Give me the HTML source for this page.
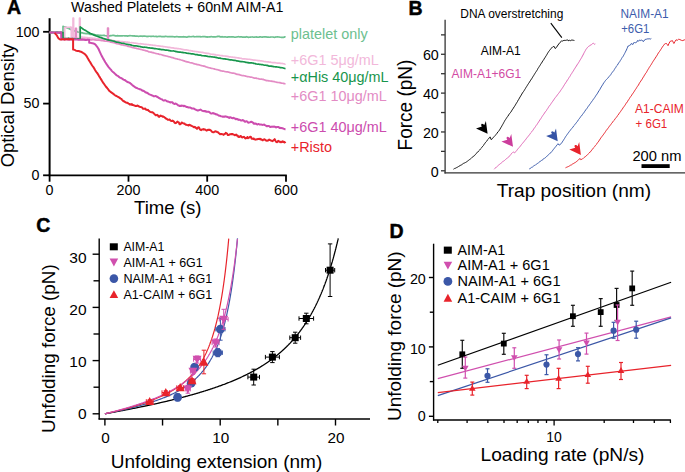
<!DOCTYPE html>
<html><head><meta charset="utf-8"><title>figure</title>
<style>html,body{margin:0;padding:0;background:#fff;}svg{display:block;}text{font-family:"Liberation Sans", sans-serif;}</style>
</head><body>
<svg width="685" height="472" viewBox="0 0 685 472" font-family="'Liberation Sans', sans-serif">
<rect width="685" height="472" fill="#fff"/>
<text x="7" y="13.8" font-size="19.5" fill="#000" font-weight="bold" stroke="#000" stroke-width="0.45">A</text>
<text x="71.1" y="11.8" font-size="14.6" fill="#000" textLength="212.3" lengthAdjust="spacingAndGlyphs">Washed Platelets + 60nM AIM-A1</text>
<line x1="49.6" y1="18.2" x2="49.6" y2="176.1" stroke="#000" stroke-width="2"/>
<line x1="48.7" y1="175.3" x2="286.8" y2="175.3" stroke="#000" stroke-width="1.8"/>
<line x1="43.1" y1="31.8" x2="49.6" y2="31.8" stroke="#000" stroke-width="1.8"/>
<line x1="43.1" y1="103.6" x2="49.6" y2="103.6" stroke="#000" stroke-width="1.8"/>
<line x1="43.1" y1="175.3" x2="49.6" y2="175.3" stroke="#000" stroke-width="1.8"/>
<line x1="49.6" y1="175.3" x2="49.6" y2="181.7" stroke="#000" stroke-width="1.8"/>
<line x1="128.5" y1="175.3" x2="128.5" y2="181.7" stroke="#000" stroke-width="1.8"/>
<line x1="207.2" y1="175.3" x2="207.2" y2="181.7" stroke="#000" stroke-width="1.8"/>
<line x1="286" y1="175.3" x2="286" y2="181.7" stroke="#000" stroke-width="1.8"/>
<text x="39.5" y="36.6" font-size="14.3" fill="#000" text-anchor="end">100</text>
<text x="39.5" y="108.4" font-size="14.3" fill="#000" text-anchor="end">50</text>
<text x="39.5" y="180.3" font-size="14.3" fill="#000" text-anchor="end">0</text>
<text x="49.6" y="195.2" font-size="14.3" fill="#000" text-anchor="middle">0</text>
<text x="128.5" y="195.2" font-size="14.3" fill="#000" text-anchor="middle">200</text>
<text x="207.2" y="195.2" font-size="14.3" fill="#000" text-anchor="middle">400</text>
<text x="286" y="195.2" font-size="14.3" fill="#000" text-anchor="middle">600</text>
<text x="134" y="214.3" font-size="19" fill="#000" textLength="67.5" lengthAdjust="spacingAndGlyphs">Time (s)</text>
<text x="14.2" y="167.3" font-size="19" fill="#000" textLength="123.5" lengthAdjust="spacingAndGlyphs" transform="rotate(-90 14.2 167.3)">Optical Density</text>
<text x="290.8" y="38.8" font-size="14.4" fill="#6cc08f">platelet only</text>
<text x="290.8" y="64.6" font-size="14.4" fill="#f2b8da">+6G1 5μg/mL</text>
<text x="290.8" y="81.8" font-size="14.4" fill="#17954c">+αHis 40μg/mL</text>
<text x="290.8" y="101.4" font-size="14.4" fill="#e38bc4">+6G1 10μg/mL</text>
<text x="290.8" y="131.8" font-size="14.4" fill="#cc4cae">+6G1 40μg/mL</text>
<text x="290.8" y="151.8" font-size="14.4" fill="#e8232b">+Risto</text>
<polyline points="49.6,32.5 50.3,32.34 51,32.27 51.7,32.36 52.4,32.54 53.1,32.59 53.8,32.52 54.5,32.44 55.2,32.52 55.9,32.6 56.6,32.45 57.3,32.41 58,32.47 58.7,32.43 59.4,32.39 60.1,32.13 60.8,32.14 61.5,32 62.2,32.16 62.9,32.17 63,32.5 63,26.4 63.7,26.62 64.4,26.78 65.1,27.01 65.8,27.16 66.5,27.5 67.2,27.92 67.9,28.21 68.6,28.56 69.3,28.82 70,29.13 70.7,29.42 71.4,29.63 72.1,29.98 72.8,30.15 73.5,30.41 74.2,30.79 74.9,30.99 75.6,31.27 76.3,31.33 77,31.61 77.7,31.9 78.4,32.14 79.1,32.25 79.8,32.23 80.5,32.37 81.2,32.63 81.9,32.84 82.6,32.93 83.3,33.16 84,33.37 84.7,33.45 85.4,33.53 86.1,33.47 86.8,33.67 87.5,33.65 88.2,33.75 88.9,33.82 89.6,34.13 90.3,34.4 91,34.38 91.7,34.3 92.4,34.34 93.1,34.36 93.8,34.47 94.5,34.48 95.2,34.89 95.9,35.08 96.6,35.14 97.3,35.05 98,35.03 98.7,35.28 99.4,35.34 100.1,35.4 100.8,35.34 101.5,35.42 102.2,35.48 102.9,35.37 103.6,35.42 104.3,35.42 105,35.67 105.7,35.76 106.4,35.81 107.1,35.78 107.8,35.7 108.5,35.82 109.2,35.76 109.9,35.87 110.6,35.65 111.3,35.69 112,35.48 112.7,35.41 113.4,35.36 114.1,35.44 114.8,35.67 115.5,35.93 116.2,35.95 116.9,35.88 117.6,35.68 118.3,35.82 119,35.87 119.7,35.84 120.4,35.87 121.1,35.95 121.8,35.87 122.5,35.8 123.2,35.77 123.9,35.77 124.6,35.82 125.3,35.74 126,35.95 126.7,35.96 127.4,36.07 128.1,35.92 128.8,35.9 129.5,35.71 130.2,35.67 130.9,35.73 131.6,35.73 132.3,35.94 133,35.74 133.7,36.04 134.4,35.89 135.1,36.16 135.8,36.11 136.5,36.05 137.2,36.11 137.9,36.26 138.6,36.42 139.3,36.28 140,36.14 140.7,36.06 141.4,36.21 142.1,36.19 142.8,36.29 143.5,36.12 144.2,36.13 144.9,36.02 145.6,36.24 146.3,36.3 147,36.54 147.7,36.43 148.4,36.39 149.1,36.27 149.8,36.23 150.5,36.31 151.2,36.32 151.9,36.36 152.6,36.23 153.3,36.2 154,36.41 154.7,36.49 155.4,36.47 156.1,36.35 156.8,36.57 157.5,36.54 158.2,36.5 158.9,36.3 159.6,36.28 160.3,36.39 161,36.45 161.7,36.65 162.4,36.51 163.1,36.56 163.8,36.51 164.5,36.57 165.2,36.42 165.9,36.36 166.6,36.51 167.3,36.58 168,36.74 168.7,36.6 169.4,36.62 170.1,36.54 170.8,36.61 171.5,36.63 172.2,36.67 172.9,36.62 173.6,36.77 174.3,36.86 175,36.9 175.7,36.73 176.4,36.53 177.1,36.59 177.8,36.75 178.5,36.87 179.2,36.84 179.9,36.82 180.6,36.92 181.3,36.97 182,36.85 182.7,36.92 183.4,36.71 184.1,36.84 184.8,36.74 185.5,36.96 186.2,37.06 186.9,37.17 187.6,36.97 188.3,36.62 189,36.55 189.7,36.57 190.4,36.74 191.1,36.75 191.8,36.69 192.5,36.48 193.2,36.43 193.9,36.6 194.6,36.79 195.3,36.77 196,36.68 196.7,36.56 197.4,36.54 198.1,36.53 198.8,36.52 199.5,36.59 200.2,36.69 200.9,36.89 201.6,36.75 202.3,36.69 203,36.55 203.7,36.57 204.4,36.65 205.1,36.68 205.8,36.81 206.5,36.82 207.2,37.11 207.9,36.93 208.6,36.99 209.3,36.78 210,36.92 210.7,36.69 211.4,36.66 212.1,36.74 212.8,36.88 213.5,36.93 214.2,36.83 214.9,36.96 215.6,36.95 216.3,36.76 217,36.58 217.7,36.39 218.4,36.29 219.1,36.31 219.8,36.64 220.5,36.97 221.2,36.91 221.9,36.69 222.6,36.8 223.3,36.93 224,37.03 224.7,36.92 225.4,36.91 226.1,36.99 226.8,37.05 227.5,37.07 228.2,36.89 228.9,36.89 229.6,36.8 230.3,37.02 231,36.84 231.7,36.9 232.4,36.79 233.1,36.79 233.8,36.98 234.5,37.13 235.2,37.22 235.9,37.12 236.6,37.02 237.3,36.8 238,36.76 238.7,36.71 239.4,36.99 240.1,36.86 240.8,36.84 241.5,36.81 242.2,37.04 242.9,37.11 243.6,37.13 244.3,37.16 245,37.08 245.7,37.04 246.4,36.71 247.1,36.92 247.8,37.06 248.5,37.34 249.2,37.25 249.9,37.17 250.6,37.1 251.3,37.01 252,36.98 252.7,36.97 253.4,37.14 254.1,37.22 254.8,37.21 255.5,37.01 256.2,36.89 256.9,37.06 257.6,37.17 258.3,37.24 259,37.05 259.7,36.89 260.4,36.88 261.1,37 261.8,37.08 262.5,37.06 263.2,36.96 263.9,37.01 264.6,36.87 265.3,36.87 266,36.78 266.7,37.03 267.4,36.98 268.1,37.12 268.8,37.19 269.5,37.24 270.2,37.12 270.9,36.99 271.6,37.02 272.3,36.99 273,37.01 273.7,37.22 274.4,37.29 275.1,37.23 275.8,36.93 276.5,36.98 277.2,36.88 277.9,36.88 278.6,36.98 279.3,37.01 280,37.23 280.7,37.26 281.4,37.38 282.1,37.33 282.8,37.37 283.5,37.33 284.2,37.21 284.9,36.88 285.5,37.1" fill="none" stroke="#6cc08f" stroke-width="1.7" stroke-linejoin="round"/>
<polyline points="49.6,32.5 50.3,32.45 51,32.48 51.7,32.52 52.4,32.52 53.1,32.51 53.8,32.5 54.5,32.49 55.2,32.5 55.9,32.53 56.6,32.61 57.3,32.65 58,32.63 58.7,32.45 59.4,32.44 60.1,32.34 60.8,32.35 61.5,32.37 62.2,32.51 62.5,32.5 62.5,38 63.2,38.16 63.9,38.08 64.6,37.91 64.7,38 64.7,27.3 65.4,27.35 66.1,27.46 66.8,27.38 67.5,27.36 68.2,27.3 68.9,27.3 69.6,27.26 70.3,27.2 71,27.15 71.3,27.3 71.3,38 72,37.88 72.7,37.99 73,38 73,18.2 73.6,18.2 73.6,38 74.3,38.03 75,37.91 75.7,38.06 76.4,38.06 77.1,38.2 77.8,38.04 78.5,38.06 79.2,37.89 79.5,38 79.5,18.2 80.1,18.2 80.1,37 80.8,36.96 81.5,37.01 82.2,37.09 82.9,37.25 83.6,37.31 84.3,37.38 85,37.37 85.7,37.47 86.4,37.58 87.1,37.66 87.8,37.85 88.5,37.84 89.2,37.96 89.9,37.95 90.6,38.02 91.3,38.11 92,38.18 92.7,38.33 93.4,38.37 94.1,38.4 94.8,38.44 95.5,38.52 96.2,38.7 96.9,38.74 97.6,38.81 98.3,38.75 99,38.91 99.7,38.94 100.4,39.01 101.1,39.05 101.8,39.24 102.5,39.34 103.2,39.37 103.9,39.35 104.6,39.45 105.3,39.61 106,39.69 106.7,39.79 107.4,39.88 108.1,39.96 108.8,40.1 109.5,40.11 110.2,40.17 110.9,40.13 111.6,40.36 112.3,40.49 113,40.67 113.7,40.66 114.4,40.77 115.1,40.84 115.8,41.02 116.5,41.04 117.2,41.04 117.9,40.98 118.6,41.05 119.3,41.25 120,41.42 120.7,41.52 121.4,41.5 122.1,41.52 122.8,41.72 123.5,41.73 124.2,41.86 124.9,41.82 125.6,42.09 126.3,42.1 127,42.22 127.7,42.17 128.4,42.26 129.1,42.42 129.8,42.62 130.5,42.73 131.2,42.7 131.9,42.64 132.6,42.72 133.3,42.85 134,43.02 134.7,43.11 135.4,43.14 136.1,43.22 136.8,43.31 137.5,43.51 138.2,43.68 138.9,43.76 139.6,43.74 140.3,43.72 141,43.78 141.7,43.86 142.4,43.94 143.1,44 143.8,44.15 144.5,44.23 145.2,44.38 145.9,44.42 146.6,44.47 147.3,44.49 148,44.57 148.7,44.67 149.4,44.81 150.1,44.9 150.8,44.95 151.5,45.02 152.2,45.04 152.9,45.16 153.6,45.23 154.3,45.28 155,45.4 155.7,45.51 156.4,45.69 157.1,45.76 157.8,45.82 158.5,45.86 159.2,45.96 159.9,46.04 160.6,46.19 161.3,46.23 162,46.36 162.7,46.45 163.4,46.6 164.1,46.66 164.8,46.77 165.5,46.79 166.2,46.93 166.9,47.01 167.6,47.2 168.3,47.3 169,47.35 169.7,47.42 170.4,47.54 171.1,47.69 171.8,47.82 172.5,47.81 173.2,47.92 173.9,48.07 174.6,48.3 175.3,48.39 176,48.36 176.7,48.46 177.4,48.55 178.1,48.61 178.8,48.69 179.5,48.73 180.2,48.9 180.9,48.95 181.6,49.2 182.3,49.36 183,49.51 183.7,49.65 184.4,49.86 185.1,49.95 185.8,49.96 186.5,49.93 187.2,50.01 187.9,50.16 188.6,50.36 189.3,50.51 190,50.65 190.7,50.71 191.4,50.81 192.1,50.91 192.8,51.09 193.5,51.27 194.2,51.36 194.9,51.43 195.6,51.51 196.3,51.56 197,51.6 197.7,51.73 198.4,51.89 199.1,52.1 199.8,52.1 200.5,52.2 201.2,52.27 201.9,52.43 202.6,52.45 203.3,52.57 204,52.77 204.7,53.02 205.4,53.12 206.1,53.19 206.8,53.32 207.5,53.32 208.2,53.43 208.9,53.53 209.6,53.81 210.3,54.02 211,54.16 211.7,54.25 212.4,54.29 213.1,54.38 213.8,54.45 214.5,54.54 215.2,54.65 215.9,54.88 216.6,54.98 217.3,55.04 218,55.06 218.7,55.24 219.4,55.35 220.1,55.51 220.8,55.5 221.5,55.6 222.2,55.62 222.9,55.81 223.6,55.97 224.3,56 225,56.02 225.7,56.08 226.4,56.22 227.1,56.29 227.8,56.42 228.5,56.58 229.2,56.78 229.9,56.8 230.6,56.93 231.3,56.99 232,57.16 232.7,57.16 233.4,57.23 234.1,57.28 234.8,57.39 235.5,57.56 236.2,57.66 236.9,57.75 237.6,57.82 238.3,57.88 239,58.07 239.7,58.13 240.4,58.22 241.1,58.33 241.8,58.57 242.5,58.79 243.2,58.82 243.9,58.82 244.6,58.89 245.3,58.97 246,59.01 246.7,59.03 247.4,59.16 248.1,59.26 248.8,59.26 249.5,59.26 250.2,59.43 250.9,59.57 251.6,59.72 252.3,59.79 253,59.95 253.7,60.04 254.4,60.14 255.1,60.16 255.8,60.25 256.5,60.27 257.2,60.46 257.9,60.57 258.6,60.67 259.3,60.69 260,60.77 260.7,60.93 261.4,60.96 262.1,61.01 262.8,61.04 263.5,61.34 264.2,61.53 264.9,61.63 265.6,61.63 266.3,61.77 267,61.86 267.7,61.89 268.4,61.94 269.1,62.06 269.8,62.2 270.5,62.2 271.2,62.36 271.9,62.5 272.6,62.64 273.3,62.67 274,62.57 274.7,62.66 275.4,62.7 276.1,62.91 276.8,63 277.5,63.07 278.2,63.05 278.9,63.12 279.6,63.19 280.3,63.34 281,63.38 281.7,63.48 282.4,63.47 283.1,63.64 283.8,63.76 284.5,64.01 285.2,64.13 285.5,64" fill="none" stroke="#f2b8da" stroke-width="1.7" stroke-linejoin="round"/>
<polyline points="49.6,32.5 50.3,32.37 51,32.45 51.7,32.37 52.4,32.55 53.1,32.55 53.8,32.66 54.5,32.66 55.2,32.66 55.9,32.67 56.6,32.59 57.3,32.66 58,32.85 58.7,33.12 59.4,33.24 60.1,33.19 60.8,33.04 61.5,33.08 62,33 62,38.5 62.7,38.39 63.4,38.4 64.1,38.55 64.8,38.62 65.5,38.63 66.2,38.51 66.9,38.57 67.6,38.51 68.3,38.46 69,38.47 69.7,38.57 70.4,38.59 71.1,38.63 71.8,38.57 72.5,38.56 73.2,38.43 73.9,38.57 74.6,38.43 75.3,38.42 75.5,38.5 75.5,28.4 76.2,28.33 76.4,28.4 76.4,38.8 77.1,38.66 77.8,38.74 78.5,38.89 79.2,39.07 79.9,39.07 80.6,38.98 81.3,38.86 82,38.85 82.7,38.91 83.4,39.03 84.1,39.09 84.8,39.08 85.5,39.14 86.2,39.22 86.9,39.42 87.6,39.43 88.3,39.52 89,39.55 89.7,39.68 90.4,39.71 91.1,39.79 91.8,39.79 92.5,39.72 93.2,39.74 93.9,39.75 94.6,39.92 95.3,39.91 96,40.09 96.7,40.15 97.4,40.23 98.1,40.07 98.8,40.11 99.5,40.26 100.2,40.4 100.9,40.49 101.6,40.53 102.3,40.69 103,40.71 103.7,40.83 104.4,40.94 105.1,41.24 105.8,41.25 106.5,41.24 107.2,41.1 107.6,41.3 107.6,28.2 108.3,28.04 108.4,28.2 108.4,41.5 109.1,41.5 109.8,41.74 110.5,42.06 111.2,42.25 111.9,42.3 112.6,42.48 113.3,42.61 114,42.76 114.7,42.83 115.4,43.13 116.1,43.39 116.8,43.69 117.5,43.73 118.2,43.95 118.9,44 119.6,44.19 120.3,44.46 121,44.73 121.7,44.87 122.4,44.87 123.1,45.02 123.8,45.3 124.5,45.45 125.2,45.48 125.9,45.56 126.6,45.76 127.3,46.06 128,46.34 128.7,46.53 129.4,46.75 130.1,46.77 130.8,46.98 131.5,47.24 132.2,47.54 132.9,47.68 133.6,47.72 134.3,47.97 135,48.06 135.7,48.22 136.4,48.31 137.1,48.6 137.8,48.75 138.5,48.92 139.2,49.03 139.9,49.25 140.6,49.4 141.3,49.52 142,49.68 142.7,49.93 143.4,50.12 144.1,50.29 144.8,50.45 145.5,50.62 146.2,50.83 146.9,50.89 147.6,51.22 148.3,51.54 149,51.93 149.7,52.02 150.4,52.09 151.1,52.15 151.8,52.35 152.5,52.58 153.2,52.67 153.9,52.91 154.6,52.99 155.3,53.35 156,53.47 156.7,53.61 157.4,53.72 158.1,53.93 158.8,54.16 159.5,54.36 160.2,54.46 160.9,54.49 161.6,54.7 162.3,54.96 163,55.3 163.7,55.42 164.4,55.63 165.1,55.77 165.8,55.9 166.5,56 167.2,56.29 167.9,56.43 168.6,56.71 169.3,56.77 170,56.98 170.7,57.17 171.4,57.39 172.1,57.57 172.8,57.65 173.5,57.9 174.2,58.26 174.9,58.44 175.6,58.6 176.3,58.76 177,58.93 177.7,59.12 178.4,59.26 179.1,59.46 179.8,59.59 180.5,59.79 181.2,60.02 181.9,60.21 182.6,60.37 183.3,60.64 184,60.88 184.7,61.16 185.4,61.36 186.1,61.58 186.8,61.86 187.5,61.92 188.2,62.13 188.9,62.15 189.6,62.52 190.3,62.77 191,62.86 191.7,62.86 192.4,62.99 193.1,63.36 193.8,63.67 194.5,63.81 195.2,63.98 195.9,64.17 196.6,64.36 197.3,64.59 198,64.58 198.7,64.82 199.4,64.87 200.1,65.28 200.8,65.41 201.5,65.61 202.2,65.76 202.9,65.9 203.6,66.09 204.3,66.14 205,66.39 205.7,66.67 206.4,67.03 207.1,67.2 207.8,67.42 208.5,67.54 209.2,67.72 209.9,67.87 210.6,68.12 211.3,68.29 212,68.41 212.7,68.51 213.4,68.72 214.1,68.85 214.8,69.1 215.5,69.25 216.2,69.51 216.9,69.56 217.6,69.78 218.3,69.95 219,70.15 219.7,70.43 220.4,70.59 221.1,70.91 221.8,71 222.5,71.1 223.2,71.12 223.9,71.24 224.6,71.45 225.3,71.64 226,71.75 226.7,71.79 227.4,71.93 228.1,71.96 228.8,72.27 229.5,72.39 230.2,72.65 230.9,72.77 231.6,72.99 232.3,73.1 233,73.15 233.7,73.22 234.4,73.34 235.1,73.54 235.8,73.88 236.5,74.1 237.2,74.36 237.9,74.31 238.6,74.56 239.3,74.64 240,74.88 240.7,75.05 241.4,75.34 242.1,75.51 242.8,75.63 243.5,75.6 244.2,75.78 244.9,75.9 245.6,76.17 246.3,76.28 247,76.56 247.7,76.52 248.4,76.65 249.1,76.74 249.8,76.99 250.5,77.11 251.2,77.18 251.9,77.25 252.6,77.46 253.3,77.78 254,78.09 254.7,78.16 255.4,78.08 256.1,78.12 256.8,78.4 257.5,78.54 258.2,78.67 258.9,78.8 259.6,79.05 260.3,79.21 261,79.22 261.7,79.19 262.4,79.31 263.1,79.37 263.8,79.66 264.5,79.81 265.2,80.12 265.9,80.33 266.6,80.59 267.3,80.61 268,80.68 268.7,80.81 269.4,80.97 270.1,80.98 270.8,81.03 271.5,81.11 272.2,81.4 272.9,81.38 273.6,81.54 274.3,81.55 275,81.83 275.7,82.04 276.4,82.2 277.1,82.33 277.8,82.52 278.5,82.49 279.2,82.63 279.9,82.63 280.6,82.91 281.3,83.04 282,83.15 282.7,83.23 283.4,83.39 284.1,83.59 284.8,83.71 285.5,83.8" fill="none" stroke="#e38bc4" stroke-width="1.7" stroke-linejoin="round"/>
<polyline points="49.6,32.5 50.3,32.68 51,32.54 51.7,32.47 52.4,32.45 53.1,32.43 53.8,32.5 54.5,32.49 55.2,32.5 55.9,32.4 56.6,32.42 57.3,32.39 58,32.44 58.7,32.5 59.4,32.56 60.1,32.6 60.8,32.56 61.5,32.55 62.2,32.51 62.9,32.48 63,32.5 63,38.6 63.7,38.51 64.4,38.57 65.1,38.56 65.8,38.66 66.5,38.62 67.2,38.55 67.9,38.47 68.6,38.41 69.3,38.53 70,38.63 70.7,38.77 71.4,38.72 72.1,38.63 72.8,38.7 73.5,38.79 74.2,38.84 74.9,38.81 75.6,38.92 76.3,38.99 77,38.96 77.7,38.86 78.4,38.83 79.1,38.81 79.8,38.74 80.2,38.8 80.2,26.8 80.9,27.41 81.6,27.83 82.3,28.42 83,28.98 83.7,29.46 84.4,29.86 85.1,30.17 85.8,30.59 86.5,31.09 87.2,31.6 87.9,32.01 88.6,32.37 89.3,32.77 90,33.23 90.7,33.59 91.4,33.93 92.1,34.16 92.8,34.46 93.5,34.86 94.2,35.14 94.9,35.46 95.6,35.67 96.3,36.03 97,36.26 97.7,36.5 98.4,36.77 99.1,37.05 99.8,37.19 100.5,37.42 101.2,37.61 101.9,37.89 102.6,38.13 103.3,38.42 104,38.7 104.7,38.87 105.4,39.08 106.1,39.3 106.8,39.57 107.5,39.79 108.2,39.92 108.9,40.04 109.6,40.2 110.3,40.33 111,40.54 111.7,40.65 112.4,40.89 113.1,40.97 113.8,41.13 114.5,41.32 115.2,41.62 115.9,41.89 116.6,42.05 117.3,42.16 118,42.24 118.7,42.42 119.4,42.58 120.1,42.81 120.8,43.03 121.5,43.2 122.2,43.25 122.9,43.27 123.6,43.34 124.3,43.51 125,43.76 125.7,43.99 126.4,44.12 127.1,44.23 127.8,44.42 128.5,44.62 129.2,44.69 129.9,44.75 130.6,44.91 131.3,45.11 132,45.32 132.7,45.5 133.4,45.66 134.1,45.79 134.8,45.89 135.5,45.88 136.2,45.93 136.9,46.03 137.6,46.2 138.3,46.37 139,46.45 139.7,46.53 140.4,46.67 141.1,46.83 141.8,46.99 142.5,47.07 143.2,47.19 143.9,47.29 144.6,47.22 145.3,47.23 146,47.28 146.7,47.45 147.4,47.59 148.1,47.76 148.8,47.88 149.5,47.9 150.2,48.03 150.9,48.12 151.6,48.2 152.3,48.2 153,48.33 153.7,48.44 154.4,48.56 155.1,48.6 155.8,48.68 156.5,48.73 157.2,48.88 157.9,48.98 158.6,49.08 159.3,49.12 160,49.39 160.7,49.42 161.4,49.59 162.1,49.54 162.8,49.66 163.5,49.72 164.2,49.86 164.9,50.03 165.6,50.11 166.3,50.13 167,50.14 167.7,50.25 168.4,50.41 169.1,50.6 169.8,50.7 170.5,50.82 171.2,50.93 171.9,51.02 172.6,50.99 173.3,50.96 174,50.98 174.7,51.24 175.4,51.36 176.1,51.59 176.8,51.64 177.5,51.88 178.2,51.97 178.9,52.04 179.6,52.04 180.3,52.1 181,52.22 181.7,52.31 182.4,52.41 183.1,52.58 183.8,52.63 184.5,52.75 185.2,52.73 185.9,52.93 186.6,53.07 187.3,53.21 188,53.35 188.7,53.34 189.4,53.5 190.1,53.54 190.8,53.76 191.5,53.82 192.2,53.83 192.9,53.86 193.6,53.97 194.3,54.29 195,54.45 195.7,54.56 196.4,54.52 197.1,54.68 197.8,54.87 198.5,55.05 199.2,55.07 199.9,55.01 200.6,55.16 201.3,55.42 202,55.64 202.7,55.77 203.4,55.77 204.1,55.79 204.8,55.91 205.5,55.93 206.2,56.07 206.9,56.13 207.6,56.35 208.3,56.49 209,56.6 209.7,56.63 210.4,56.65 211.1,56.74 211.8,56.85 212.5,56.96 213.2,57 213.9,57.12 214.6,57.21 215.3,57.31 216,57.36 216.7,57.57 217.4,57.77 218.1,58.06 218.8,58.08 219.5,58.14 220.2,58.19 220.9,58.36 221.6,58.49 222.3,58.64 223,58.74 223.7,58.8 224.4,58.76 225.1,58.9 225.8,59.08 226.5,59.19 227.2,59.23 227.9,59.35 228.6,59.55 229.3,59.68 230,59.79 230.7,59.9 231.4,59.95 232.1,60.01 232.8,60.11 233.5,60.28 234.2,60.29 234.9,60.37 235.6,60.54 236.3,60.83 237,60.85 237.7,61.05 238.4,61.02 239.1,61.29 239.8,61.32 240.5,61.54 241.2,61.61 241.9,61.59 242.6,61.68 243.3,61.75 244,61.79 244.7,62.01 245.4,62.19 246.1,62.51 246.8,62.43 247.5,62.58 248.2,62.68 248.9,62.91 249.6,62.94 250.3,62.91 251,62.94 251.7,62.94 252.4,63.02 253.1,63.14 253.8,63.31 254.5,63.5 255.2,63.59 255.9,63.85 256.6,64.03 257.3,64.14 258,64.22 258.7,64.22 259.4,64.32 260.1,64.41 260.8,64.5 261.5,64.61 262.2,64.61 262.9,64.78 263.6,64.99 264.3,65.13 265,65.24 265.7,65.22 266.4,65.31 267.1,65.35 267.8,65.58 268.5,65.86 269.2,66.06 269.9,66.06 270.6,66.08 271.3,66.15 272,66.34 272.7,66.43 273.4,66.57 274.1,66.67 274.8,66.73 275.5,66.81 276.2,66.8 276.9,66.92 277.6,66.98 278.3,67.17 279,67.25 279.7,67.44 280.4,67.58 281.1,67.66 281.8,67.73 282.5,67.77 283.2,67.99 283.9,68.22 284.6,68.42 285.3,68.48 285.5,68.4" fill="none" stroke="#17954c" stroke-width="1.7" stroke-linejoin="round"/>
<polyline points="49.6,32.5 50.3,32.57 51,32.66 51.7,32.54 52.4,32.45 53.1,32.5 53.8,32.42 54.5,32.39 55.2,32.41 55.9,32.5 56.6,32.6 57.3,32.58 58,32.69 58.7,32.59 59.4,32.6 60.1,32.38 60.8,32.35 61.2,32.5 61.2,39.3 61.9,39.22 62.6,39.26 63.3,39.32 64,39.4 64.7,39.4 65.4,39.33 66.1,39.33 66.8,39.36 67.5,39.47 68.2,39.61 68.9,39.67 69.6,39.63 70.3,39.49 71,39.42 71.7,39.39 72.4,39.36 73.1,39.39 73.8,39.43 74.5,39.53 75.2,39.55 75.9,39.57 76.6,39.48 77.3,39.6 78,39.65 78.7,39.81 79.4,39.78 80.1,39.85 80.8,39.75 81.5,39.76 82.2,39.84 82.9,39.8 83.6,39.84 84.3,39.8 85,39.89 85.7,39.88 86.4,39.88 87.1,39.83 87.8,39.83 88.5,39.73 89.2,39.8 89.2,42.7 89.9,42.78 90.6,42.88 91.3,43.11 92,43.13 92.7,43.25 93.4,43.44 94.1,43.72 94.8,44.07 95.5,44.71 96.2,45.62 96.9,46.48 97.6,47.43 98.3,48.5 99,50.02 99.7,51.6 100.4,53.1 101.1,54.63 101.8,55.99 102.5,57.35 103.2,58.62 103.9,59.81 104.6,61.01 105.3,62.27 106,63.32 106.7,64.45 107.4,65.34 108.1,66.43 108.8,67.33 109.5,68.15 110.2,68.95 110.9,69.65 111.6,70.53 112.3,71.35 113,72.02 113.7,72.61 114.4,73.21 115.1,73.91 115.8,74.71 116.5,75.17 117.2,75.6 117.9,75.95 118.6,76.53 119.3,77.18 120,77.63 120.7,77.93 121.4,78.22 122.1,78.56 122.8,79.19 123.5,79.62 124.2,79.98 124.9,80.1 125.6,80.62 126.3,81.3 127,81.78 127.7,82.02 128.4,82.36 129.1,82.56 129.8,82.89 130.5,83.43 131.2,84.04 131.9,84.75 132.6,85.26 133.3,85.9 134,86.3 134.7,86.91 135.4,87.37 136.1,87.76 136.8,87.95 137.5,88.33 138.2,88.65 138.9,88.93 139.6,89.2 140.3,89.35 141,89.66 141.7,89.99 142.4,90.65 143.1,90.69 143.8,91.02 144.5,91.45 145.2,92.17 145.9,92.34 146.6,92.82 147.3,92.85 148,93.39 148.7,93.87 149.4,94.32 150.1,94.57 150.8,94.83 151.5,95.22 152.2,95.58 152.9,95.67 153.6,96.34 154.3,96.15 155,96.17 155.7,95.92 156.4,96.5 157.1,96.78 157.8,97.1 158.5,97.74 159.2,98.01 159.9,98.53 160.6,98.82 161.3,99.12 162,99.38 162.7,99.96 163.4,100.49 164.1,100.53 164.8,100.33 165.5,100.25 166.2,100.72 166.9,101.2 167.6,101.46 168.3,101.57 169,101.86 169.7,102.17 170.4,102.5 171.1,102.17 171.8,102.31 172.5,102.35 173.2,103.39 173.9,103.72 174.6,103.93 175.3,103.45 176,103.72 176.7,104.24 177.4,104.64 178.1,105.42 178.8,105.51 179.5,106.04 180.2,105.79 180.9,106.09 181.6,105.55 182.3,105.65 183,105.68 183.7,106.18 184.4,105.86 185.1,106.3 185.8,106.45 186.5,107.08 187.2,106.99 187.9,107.22 188.6,107.62 189.3,107.55 190,107.56 190.7,107.71 191.4,108.26 192.1,108.58 192.8,108.55 193.5,108.48 194.2,108.74 194.9,109.37 195.6,109.49 196.3,110.07 197,110.16 197.7,110.49 198.4,110.48 199.1,110.07 199.8,109.91 200.5,109.56 201.2,110 201.9,110.53 202.6,110.9 203.3,111.2 204,110.91 204.7,111.34 205.4,111.12 206.1,111.67 206.8,111.6 207.5,111.84 208.2,111.83 208.9,111.84 209.6,112.3 210.3,112.97 211,113.53 211.7,113.45 212.4,113.26 213.1,113.05 213.8,113.58 214.5,113.43 215.2,114.15 215.9,114.07 216.6,114.56 217.3,114.49 218,115.04 218.7,115.5 219.4,115.84 220.1,115.78 220.8,116.17 221.5,116.38 222.2,116.49 222.9,116.71 223.6,116.59 224.3,116.81 225,116.37 225.7,116.42 226.4,116.76 227.1,116.83 227.8,117.23 228.5,117.28 229.2,117.85 229.9,117.29 230.6,117.33 231.3,117.59 232,118.12 232.7,118.33 233.4,117.72 234.1,118.24 234.8,118.21 235.5,119.2 236.2,118.72 236.9,119.22 237.6,119.1 238.3,119.93 239,119.68 239.7,119.74 240.4,120.26 241.1,120.44 241.8,120.58 242.5,120.09 243.2,120.2 243.9,120.84 244.6,121.5 245.3,121.74 246,121.15 246.7,121.16 247.4,121.78 248.1,122.58 248.8,122.73 249.5,122.38 250.2,122.27 250.9,121.78 251.6,121.79 252.3,122.23 253,122.56 253.7,123.65 254.4,123.57 255.1,123.73 255.8,123.5 256.5,124.09 257.2,124.52 257.9,124.15 258.6,123.94 259.3,124.31 260,124.64 260.7,124.49 261.4,124.55 262.1,124.85 262.8,124.91 263.5,124.7 264.2,124.61 264.9,125.11 265.6,125.38 266.3,126.01 267,126.25 267.7,125.97 268.4,125.92 269.1,126.1 269.8,126.76 270.5,127.06 271.2,126.82 271.9,126.6 272.6,126.72 273.3,126.72 274,126.55 274.7,126.71 275.4,126.93 276.1,127.54 276.8,127.05 277.5,127.03 278.2,126.95 278.9,127.35 279.6,127.91 280.3,127.75 281,128.17 281.7,127.9 282.4,128.35 283.1,128.46 283.8,128.87 284.5,128.88 285.2,129.3 285.5,129.3" fill="none" stroke="#cc4cae" stroke-width="2" stroke-linejoin="round"/>
<polyline points="54.5,33 55.2,33.56 55.9,34.4 56.6,35.1 57.3,36.32 58,37.65 58.7,38.51 59.4,39.07 60.1,39.45 60.8,39.52 61.5,39.44 62.2,39.32 62.9,39.2 63.6,39.35 64.3,39.39 65,39.44 65.7,39.3 66.4,39.22 67.1,39.27 67.8,39.24 68.5,39.27 69.2,39.11 69.9,39.15 70.6,39.07 71.3,39.21 72,39.27 72.7,39.21 73.1,39.3 73.1,49.5 73.8,49.59 74.5,49.92 75.2,50.19 75.9,50.56 76.6,50.88 77.3,50.96 78,50.95 78.7,51.05 79.4,51.24 80.1,51.57 80.8,51.68 81.5,52 82.2,52.31 82.9,52.78 83.6,53.21 84.3,53.74 85,54.31 85.7,54.98 86.4,55.93 87.1,56.96 87.8,58.28 88.5,59.44 89.2,60.78 89.9,61.78 90.6,62.89 91.3,64.1 92,65.21 92.7,66.25 93.4,67.14 94.1,68.23 94.8,69.57 95.5,70.69 96.2,71.83 96.9,72.61 97.6,73.67 98.3,74.71 99,76.02 99.7,77.08 100.4,78.27 101.1,79.37 101.8,80.56 102.5,81.69 103.2,82.78 103.9,83.72 104.6,84.72 105.3,85.71 106,86.76 106.7,87.47 107.4,88.38 108.1,89.24 108.8,90.21 109.5,90.94 110.2,91.55 110.9,92.17 111.6,92.58 112.3,93.19 113,93.62 113.7,94.15 114.4,94.79 115.1,95.29 115.8,95.73 116.5,95.99 117.2,96.46 117.9,96.79 118.6,97.19 119.3,97.57 120,98.07 120.7,98.59 121.4,98.95 122.1,99.86 122.8,100.58 123.5,101.24 124.2,101.3 124.9,101.9 125.6,102.28 126.3,102.67 127,102.64 127.7,102.97 128.4,103.61 129.1,103.83 129.8,104.52 130.5,104.26 131.2,104.68 131.9,104.17 132.6,105.06 133.3,105.03 134,105.49 134.7,105.48 135.4,106.12 136.1,106.06 136.8,105.94 137.5,105.42 138.2,105.99 138.9,106.3 139.6,106.86 140.3,106.88 141,107.06 141.7,107.22 142.4,107.88 143.1,108.78 143.8,108.72 144.5,108.82 145.2,108.49 145.9,109.62 146.6,109.66 147.3,110.09 148,109.88 148.7,110.8 149.4,111.22 150.1,111.89 150.8,112.11 151.5,112.33 152.2,112.15 152.9,112.57 153.6,113.11 154.3,114 155,114.5 155.7,115.2 156.4,115.16 157.1,114.79 157.8,115.24 158.5,116.56 159.2,116.89 159.9,116.11 160.6,115.59 161.3,115.98 162,116.11 162.7,116.65 163.4,116.6 164.1,117.01 164.8,117.61 165.5,118.08 166.2,118.77 166.9,118.89 167.6,119.72 168.3,119.85 169,119.85 169.7,119.43 170.4,120.49 171.1,120.95 171.8,121.07 172.5,120.6 173.2,120.85 173.9,121.7 174.6,122.65 175.3,123.13 176,122.94 176.7,122.4 177.4,121.56 178.1,122.09 178.8,122.4 179.5,124.19 180.2,124.34 180.9,123.66 181.6,122.53 182.3,122.74 183,123.28 183.7,123.41 184.4,123.42 185.1,124.26 185.8,124.74 186.5,124.73 187.2,125.1 187.9,125.15 188.6,125.5 189.3,124.83 190,124.93 190.7,125.57 191.4,125.67 192.1,126.14 192.8,126.35 193.5,127.03 194.2,127.34 194.9,126.79 195.6,127.64 196.3,128.16 197,128.88 197.7,127.84 198.4,127.16 199.1,127.63 199.8,129.18 200.5,129.88 201.2,130.16 201.9,129.41 202.6,129.38 203.3,129.05 204,129.63 204.7,129.26 205.4,129.79 206.1,130.31 206.8,130.62 207.5,129.87 208.2,129.64 208.9,129.99 209.6,129.74 210.3,130.07 211,130.54 211.7,131.44 212.4,132.11 213.1,132.25 213.8,132.28 214.5,131.63 215.2,131.3 215.9,131.44 216.6,131.69 217.3,132.02 218,132.28 218.7,132.92 219.4,133.62 220.1,134.24 220.8,133.92 221.5,133.9 222.2,134.29 222.9,134.2 223.6,134.87 224.3,134.03 225,134.06 225.7,132.9 226.4,133.26 227.1,133.69 227.8,134.93 228.5,134.93 229.2,134.84 229.9,134.24 230.6,134.33 231.3,133.98 232,134.26 232.7,133.98 233.4,134.62 234.1,134.72 234.8,135.26 235.5,134.93 236.2,134.49 236.9,135.6 237.6,135.59 238.3,136.87 239,136.47 239.7,136.97 240.4,136.01 241.1,136.29 241.8,137.24 242.5,137.43 243.2,137.01 243.9,136.85 244.6,137.46 245.3,138.48 246,137.94 246.7,138.13 247.4,136.94 248.1,138.1 248.8,137.7 249.5,137.43 250.2,136.65 250.9,136.98 251.6,138.72 252.3,138.73 253,138.88 253.7,138.45 254.4,139.31 255.1,139.39 255.8,139.66 256.5,139.33 257.2,139.33 257.9,139.04 258.6,138.94 259.3,138.78 260,139.32 260.7,138.85 261.4,139.77 262.1,139.75 262.8,140.35 263.5,139.66 264.2,139.28 264.9,139.59 265.6,140.27 266.3,140.55 267,140.83 267.7,140.4 268.4,140.45 269.1,139.51 269.8,140.11 270.5,140.15 271.2,140.68 271.9,140.91 272.6,141.2 273.3,140.31 274,139.94 274.7,139.15 275.4,140.76 276.1,141.79 276.8,142.23 277.5,141.9 278.2,140.87 278.9,141.27 279.6,141.56 280.3,142.23 281,141.75 281.7,142.17 282.4,141.34 283.1,141.9 283.8,141.78 284.5,142.49 285.2,142.05 285.5,141.7" fill="none" stroke="#e8232b" stroke-width="2" stroke-linejoin="round"/>
<text x="408.6" y="14.7" font-size="19.5" fill="#000" font-weight="bold" stroke="#000" stroke-width="0.45">B</text>
<line x1="445.1" y1="19.7" x2="445.1" y2="173.4" stroke="#333" stroke-width="1.3"/>
<line x1="444.5" y1="172.8" x2="685" y2="172.8" stroke="#333" stroke-width="1.3"/>
<line x1="441" y1="170.8" x2="445.1" y2="170.8" stroke="#333" stroke-width="1.3"/>
<line x1="441" y1="151.38" x2="445.1" y2="151.38" stroke="#333" stroke-width="1.3"/>
<line x1="441" y1="131.96" x2="445.1" y2="131.96" stroke="#333" stroke-width="1.3"/>
<line x1="441" y1="112.54" x2="445.1" y2="112.54" stroke="#333" stroke-width="1.3"/>
<line x1="441" y1="93.12" x2="445.1" y2="93.12" stroke="#333" stroke-width="1.3"/>
<line x1="441" y1="73.7" x2="445.1" y2="73.7" stroke="#333" stroke-width="1.3"/>
<line x1="441" y1="54.28" x2="445.1" y2="54.28" stroke="#333" stroke-width="1.3"/>
<line x1="441" y1="34.86" x2="445.1" y2="34.86" stroke="#333" stroke-width="1.3"/>
<text x="438.8" y="176.5" font-size="14.3" fill="#000" text-anchor="end">0</text>
<text x="438.8" y="137.66" font-size="14.3" fill="#000" text-anchor="end">20</text>
<text x="438.8" y="98.82" font-size="14.3" fill="#000" text-anchor="end">40</text>
<text x="438.8" y="59.98" font-size="14.3" fill="#000" text-anchor="end">60</text>
<text x="412.4" y="150.4" font-size="19.5" fill="#000" textLength="90.8" lengthAdjust="spacingAndGlyphs" transform="rotate(-90 412.4 150.4)">Force (pN)</text>
<text x="496.7" y="196.7" font-size="19" fill="#000" textLength="154.5" lengthAdjust="spacingAndGlyphs">Trap position (nm)</text>
<text x="460.3" y="18" font-size="12" fill="#000" textLength="103" lengthAdjust="spacingAndGlyphs">DNA overstretching</text>
<line x1="550.8" y1="23.1" x2="561.8" y2="37.6" stroke="#000" stroke-width="1.1"/>
<text x="480.7" y="54.6" font-size="12.2" fill="#000" textLength="40" lengthAdjust="spacingAndGlyphs">AIM-A1</text>
<text x="451.6" y="77.6" font-size="12.3" fill="#d24aa3" textLength="69.7" lengthAdjust="spacingAndGlyphs">AIM-A1+6G1</text>
<text x="620.5" y="18" font-size="12.3" fill="#3c5cac" textLength="48.1" lengthAdjust="spacingAndGlyphs">NAIM-A1</text>
<text x="621.2" y="33.3" font-size="12.3" fill="#3c5cac" textLength="28.1" lengthAdjust="spacingAndGlyphs">+6G1</text>
<text x="635.1" y="112.8" font-size="12.3" fill="#e8232b" textLength="48.7" lengthAdjust="spacingAndGlyphs">A1-CAIM</text>
<text x="635.5" y="127.9" font-size="12.3" fill="#e8232b" textLength="31.8" lengthAdjust="spacingAndGlyphs">+ 6G1</text>
<text x="632.4" y="160.9" font-size="14.3" fill="#000" textLength="49" lengthAdjust="spacingAndGlyphs">200 nm</text>
<rect x="641.5" y="164.2" width="28.2" height="3.8" fill="#000"/>
<polyline points="453.5,169.2 454.1,169.02 454.7,168.4 455.3,168.29 455.9,167.98 456.5,167.64 457.1,167.3 457.7,167.09 458.3,166.63 458.9,166.34 459.5,165.96 460.1,165.76 460.7,164.97 461.3,165.01 461.9,164.48 462.5,164.14 463.1,163.72 463.7,163.26 464.3,163.1 464.9,162.71 465.5,162.49 466.1,161.89 466.7,161.86 467.3,161.33 467.9,160.86 468.5,160.39 469.1,159.94 469.7,159.44 470.3,159.03 470.9,158.61 471.5,158.08 472.1,157.41 472.7,157.01 473.3,156.39 473.9,155.95 474.5,155.59 475.1,154.86 475.7,154.16 476.3,153.41 476.9,152.83 477.5,152.17 478.1,151.82 478.7,150.98 479.3,150.41 479.9,149.63 480.5,149.02 481.1,148.46 481.7,147.49 482.3,146.8 482.9,146 483.5,145.44 484.1,144.42 484.7,143.59 485.3,142.73 485.9,141.9 486.5,141.31 487.1,140.77 487.7,139.58 488.3,139.08 488.9,138.29 489.5,137.44 490.1,136.87 490.1,136.9 491.2,139.7 491.8,139.32 492.4,138.33 493,137.94 493.6,137.3 494.2,136.54 494.8,135.93 495.4,135.3 496,134.5 496.6,133.79 497.2,133.05 497.8,131.99 498.4,131.53 499,130.78 499.6,129.79 500.2,128.9 500.8,127.72 501.4,126.84 502,125.71 502.6,124.64 503.2,123.7 503.8,122.44 504.4,121.45 505,120.27 505.6,119.49 506.2,118.6 506.8,117.62 507.4,116.74 508,116.14 508.6,114.97 509.2,114.14 509.8,113.32 510.4,112.66 511,111.89 511.6,110.84 512.2,109.84 512.8,108.96 513.4,108.17 514,107.02 514.6,106.29 515.2,105.31 515.8,104.19 516.4,103.26 517,102.27 517.6,101.35 518.2,100.08 518.8,99.29 519.4,98.13 520,97.09 520.6,96.17 521.2,95.15 521.8,94.08 522.4,93.05 523,92.15 523.6,91.43 524.2,90.53 524.8,89.45 525.4,88.56 526,87.45 526.6,86.56 527.2,85.67 527.8,84.6 528.4,83.68 529,82.86 529.6,81.89 530.2,80.88 530.8,80.09 531.4,79.09 532,78.28 532.6,77.23 533.2,76.25 533.8,75.34 534.4,74.35 535,73.34 535.6,72.41 536.2,71.56 536.8,70.58 537.4,69.68 538,68.42 538.6,67.59 539.2,66.63 539.8,65.73 540.4,64.72 541,63.77 541.6,62.95 542.2,61.95 542.8,60.87 543.4,60.18 544,59.21 544.6,58.12 545.2,57.33 545.8,56.22 546.4,55.42 547,54.3 547.6,53.26 548.2,52.34 548.8,51.39 549.4,50.63 550,49.86 550.6,49.15 551.2,48.44 551.8,47.53 552.4,47.35 553,46.64 553.3,46.6 553.9,46.2 555.2,48.5 556.3,47.6 558,45 560,42.4 561.6,41 562.4,41.09 563.2,40.68 564,40.34 564.8,40.41 565.6,40.4 566.4,40.18 567.2,40.13 568,39.94 568.8,40.86 569.6,40.29 570.4,40.69 571.2,40.12 572,40.23 572.8,40.09 573.6,40.34 574.4,40.48" fill="none" stroke="#111" stroke-width="1" stroke-linejoin="round"/>
<polyline points="494.1,169.2 494.7,168.55 495.3,167.97 495.9,167.71 496.5,166.93 497.1,166.38 497.7,166.06 498.3,165.48 498.9,164.9 499.5,164.27 500.1,164.1 500.7,163.38 501.3,162.93 501.9,162.38 502.5,161.79 503.1,161.35 503.7,161.11 504.3,160.66 504.9,160.12 505.5,159.52 506.1,158.99 506.7,158.59 507.3,157.92 507.9,157.64 508.5,157.1 509.1,156.71 509.7,155.88 510.3,155.09 510.9,154.43 511.5,153.48 512.1,153.17 512.7,152.55 513.3,151.9 514.6,152.9 515.2,152.25 515.8,151.51 516.4,150.84 517,150.2 517.6,149.23 518.2,148.57 518.8,147.76 519.4,147.33 520,146.58 520.6,145.79 521.2,144.87 521.8,144.27 522.4,143.5 523,142.79 523.6,142.02 524.2,141.35 524.8,140.51 525.4,139.89 526,139.07 526.6,138.27 527.2,137.53 527.8,136.75 528.4,136.12 529,135.25 529.6,134.54 530.2,133.71 530.8,132.82 531.4,132.28 532,131.3 532.6,130.68 533.2,129.85 533.8,128.82 534.4,128.07 535,127.27 535.6,126.37 536.2,125.46 536.8,124.76 537.4,123.77 538,122.92 538.6,121.93 539.2,121.08 539.8,120.06 540.4,119.21 541,118.35 541.6,117.39 542.2,116.44 542.8,115.48 543.4,114.72 544,113.87 544.6,112.93 545.2,112.01 545.8,111.28 546.4,110.61 547,109.47 547.6,108.67 548.2,107.81 548.8,106.66 549.4,106.07 550,105.13 550.6,104.48 551.2,103.45 551.8,102.54 552.4,101.74 553,100.92 553.6,99.99 554.2,99.19 554.8,98.22 555.4,97.49 556,96.77 556.6,96.08 557.2,95.16 557.8,94.33 558.4,93.64 559,92.83 559.6,92.1 560.2,91.23 560.8,90.27 561.4,89.45 562,88.57 562.6,87.69 563.2,86.78 563.8,85.77 564.4,84.71 565,83.92 565.6,82.85 566.2,82.11 566.8,81.15 567.4,80.03 568,79.31 568.6,78.36 569.2,77.33 569.8,76.53 570.4,75.59 571,74.34 571.6,73.62 572.2,72.62 572.8,71.68 573.4,70.8 574,69.71 574.6,68.79 575.2,67.84 575.8,66.91 576.4,66.04 577,64.97 577.6,64.07 578.2,63.29 578.8,62.27 579.4,61.35 580,60.15 580.6,59.29 581.2,58.29 581.8,57.27 582.4,56.07 583,55.06 583.6,53.79 584.2,52.63 584.8,51.5 585.4,50.5 586,49.39 586.6,48.64 587.2,47.79 587.8,47.12 588.4,46.55 589,46.11 589.6,45.75 590.2,45.39 590.2,45.3 591.5,44.6 592.6,43.6 593.4,43.3 594.4,44.2 595.3,43.9" fill="none" stroke="#e066b6" stroke-width="1" stroke-linejoin="round"/>
<polyline points="529.2,169 529.8,168.64 530.4,168.4 531,167.86 531.6,167.23 532.2,167.25 532.8,166.71 533.4,166.16 534,165.87 534.6,165.39 535.2,165.33 535.8,164.73 536.4,164.06 537,163.9 537.6,163.36 538.2,163.21 538.8,162.43 539.4,161.85 540,161.69 540.6,161.2 541.2,160.74 541.8,160.08 542.4,159.93 543,159.61 543.6,158.7 544.2,158.59 544.8,157.88 545.4,157.73 546,157 546.6,156.42 547.2,156.06 547.8,155.46 548.4,154.79 549,154.4 549.6,153.68 550.2,152.95 550.8,152.81 551.4,151.91 552,151.24 552.6,150.67 553.2,149.71 553.8,148.95 554.4,148.26 555,147.45 555.6,146.72 556.2,146.08 556.8,145.14 557.4,144.5 558,143.7 559.2,145.2 559.8,144.81 560.4,144.2 561,143.79 561.6,143.01 562.2,142.16 562.8,141.14 563.4,140.34 564,139.28 564.6,138.44 565.2,137.38 565.8,136.35 566.4,135.61 567,134.73 567.6,133.78 568.2,133.15 568.8,132.21 569.4,131.43 570,130.69 570.6,129.84 571.2,129.11 571.8,128.37 572.4,127.79 573,127.03 573.6,126.1 574.2,125.53 574.8,124.6 575.4,123.88 576,123.16 576.6,122.32 577.2,121.74 577.8,120.73 578.4,119.79 579,119.24 579.6,118.26 580.2,117.47 580.8,116.4 581.4,115.99 582,115.16 582.6,114.34 583.2,113.54 583.8,112.8 584.4,111.8 585,111.08 585.6,110.09 586.2,109.3 586.8,108.61 587.4,107.72 588,106.71 588.6,106.05 589.2,105.17 589.8,104.27 590.4,103.57 591,102.65 591.6,101.69 592.2,100.9 592.8,100.34 593.4,99.16 594,98.48 594.6,97.65 595.2,96.78 595.8,95.72 596.4,94.92 597,94.05 597.6,93.17 598.2,92.05 598.8,91.01 599.4,90.21 600,89.2 600.6,88.11 601.2,87 601.8,86.1 602.4,85.09 603,84.21 603.6,83.07 604.2,82.33 604.8,81.47 605.4,80.59 606,80.01 606.6,79.35 607.2,78.69 607.8,78.16 608.4,77.33 609,76.77 609.6,76.08 610.2,75.3 610.8,74.59 611.4,73.56 612,72.7 612.6,72.03 613.2,71.2 613.8,70.5 614.4,69.46 615,68.43 615.6,67.7 616.2,66.63 616.8,65.66 617.4,65.16 618,64.03 618.6,63.17 619.2,62.26 619.8,61.49 620.4,60.44 621,59.62 621.6,58.47 622.2,57.49 622.8,56.79 623.4,55.8 624,54.66 624.6,53.55 625.2,52.42 625.8,51.13 626.4,50.05 627,48.59 627.6,47.16 628.1,45.9 628.9,46.01 629.7,45.26 630.5,44.96 631.3,43.49 632.1,44.01 632.9,44.54 633.7,42.69 634.5,42.56 635.3,42.77 636.1,42.47 636.9,41.96 637.7,40.42 638.5,41.31 639.3,40.13 640.1,40.12 640.9,40.7 641.7,40.07 642.5,40.53 643.3,41.69 644.1,40.27 644.9,40.13 645.7,39.14 646.5,39.18 647.3,38.85 648.1,39.05 648.9,38.67 649.7,38.84 650.5,39.02 651.3,38.54" fill="none" stroke="#3c5cac" stroke-width="1" stroke-linejoin="round"/>
<polyline points="565.5,167.8 566.1,167.36 566.7,167.29 567.3,166.95 567.9,166.77 568.5,166.47 569.1,165.99 569.7,165.79 570.3,165.21 570.9,165.33 571.5,164.86 572.1,164.36 572.7,163.91 573.3,163.74 573.9,163.12 574.5,162.88 575.1,162.67 575.7,162.19 576.3,161.69 576.9,161.41 577.5,160.67 578.1,160.3 578.7,159.64 579.3,159.01 579.9,158.56 580,158.4 580.9,159.8 581.5,159.39 582.1,159.28 582.7,158.58 583.3,158.33 583.9,157.71 584.5,157.22 585.1,156.88 585.7,156.41 586.3,155.68 586.9,155.37 587.5,154.61 588.1,154.11 588.7,153.54 589.3,152.95 589.9,152.07 590.5,151.75 591.1,150.97 591.7,150.17 592.3,149.39 592.9,148.59 593.5,147.88 594.1,147.32 594.7,146.47 595.3,145.63 595.9,144.92 596.5,144.34 597.1,143.35 597.7,142.5 598.3,141.86 598.9,140.92 599.5,140.03 600.1,139.1 600.7,138.15 601.3,137.34 601.9,136.56 602.5,135.75 603.1,134.99 603.7,134.19 604.3,133.33 604.9,132.52 605.5,131.58 606.1,130.65 606.7,130 607.3,129.14 607.9,128.37 608.5,127.59 609.1,126.69 609.7,125.9 610.3,125.19 610.9,124.41 611.5,123.53 612.1,122.86 612.7,122 613.3,121.13 613.9,120.45 614.5,119.85 615.1,118.81 615.7,118.21 616.3,117.45 616.9,116.66 617.5,115.63 618.1,115.11 618.7,114.1 619.3,113.24 619.9,112.4 620.5,111.64 621.1,110.74 621.7,109.87 622.3,109.15 622.9,108.09 623.5,107.19 624.1,106.5 624.7,105.62 625.3,104.78 625.9,103.68 626.5,103.01 627.1,102.06 627.7,101.29 628.3,100.1 628.9,99.35 629.5,98.41 630.1,97.38 630.7,96.57 631.3,95.86 631.9,94.8 632.5,93.88 633.1,93.14 633.7,92.25 634.3,91.34 634.9,90.26 635.5,89.42 636.1,88.62 636.7,87.53 637.3,86.6 637.9,85.84 638.5,84.98 639.1,83.78 639.7,82.7 640.3,81.87 640.9,80.96 641.5,80.09 642.1,79.21 642.7,78.16 643.3,77.14 643.9,76.25 644.5,75.16 645.1,74.28 645.7,73.25 646.3,72.61 646.9,71.46 647.5,70.34 648.1,69.36 648.7,68.45 649.3,67.37 649.9,66.5 650.5,65.54 651.1,64.74 651.7,63.65 652.3,62.66 652.9,61.65 653.5,60.72 654.1,59.88 654.7,58.92 655.3,58.11 655.9,56.99 656.5,56.22 657.1,55.2 657.7,54.23 658.3,53.1 658.9,52.24 659.5,51.51 660.1,50.66 660.7,49.63 661.3,48.78 661.9,47.76 662.5,46.88 663.1,45.97 663.7,45.26 664.3,44.3 665.4,43.6 666.5,43.5 667.3,44.6 668,45.7 669.1,43.2 670.2,41.3 671.3,41 672.4,40.6 673.2,42.2 673.9,43.5 675,41.5 676.1,39.8 677.3,40.3 678.5,39.3 679.8,39.5 681.3,40.3 682.8,40.6 684.3,39.8 685,40.1" fill="none" stroke="#e8232b" stroke-width="1" stroke-linejoin="round"/>
<path d="M487.6,133.7 L485.9,120.9 L484.3,125.0 L483.0,123.9 L481.8,123.7 L481.0,124.9 L481.9,126.6 L476.0,128.4 Z" fill="#000" transform="translate(0 0)"/>
<path d="M487.6,133.7 L485.9,120.9 L484.3,125.0 L483.0,123.9 L481.8,123.7 L481.0,124.9 L481.9,126.6 L476.0,128.4 Z" fill="#cc3d9c" transform="translate(25.4 13.1)"/>
<path d="M487.6,133.7 L485.9,120.9 L484.3,125.0 L483.0,123.9 L481.8,123.7 L481.0,124.9 L481.9,126.6 L476.0,128.4 Z" fill="#3553a6" transform="translate(70.1 7.5)"/>
<path d="M487.6,133.7 L485.9,120.9 L484.3,125.0 L483.0,123.9 L481.8,123.7 L481.0,124.9 L481.9,126.6 L476.0,128.4 Z" fill="#e8232b" transform="translate(93.3 21.2)"/>
<text x="36.2" y="231.8" font-size="19.5" fill="#000" font-weight="bold" stroke="#000" stroke-width="0.45">C</text>
<line x1="99.2" y1="238.5" x2="99.2" y2="419.6" stroke="#000" stroke-width="1.4"/>
<line x1="98.6" y1="419" x2="370" y2="419" stroke="#000" stroke-width="1.4"/>
<line x1="92.6" y1="413.8" x2="99.2" y2="413.8" stroke="#000" stroke-width="1.4"/>
<line x1="93.5" y1="387.2" x2="99.2" y2="387.2" stroke="#000" stroke-width="1.4"/>
<line x1="92.6" y1="360.6" x2="99.2" y2="360.6" stroke="#000" stroke-width="1.4"/>
<line x1="93.5" y1="334" x2="99.2" y2="334" stroke="#000" stroke-width="1.4"/>
<line x1="92.6" y1="307.4" x2="99.2" y2="307.4" stroke="#000" stroke-width="1.4"/>
<line x1="93.5" y1="280.8" x2="99.2" y2="280.8" stroke="#000" stroke-width="1.4"/>
<line x1="92.6" y1="254.2" x2="99.2" y2="254.2" stroke="#000" stroke-width="1.4"/>
<text x="86.6" y="418.6" font-size="15.5" fill="#000" text-anchor="end">0</text>
<text x="86.6" y="366.7" font-size="15.5" fill="#000" text-anchor="end">10</text>
<text x="86.6" y="314.9" font-size="15.5" fill="#000" text-anchor="end">20</text>
<text x="86.6" y="262.5" font-size="15.5" fill="#000" text-anchor="end">30</text>
<line x1="104.9" y1="419" x2="104.9" y2="425.5" stroke="#000" stroke-width="1.4"/>
<line x1="162.55" y1="419" x2="162.55" y2="425.5" stroke="#000" stroke-width="1.4"/>
<line x1="220.2" y1="419" x2="220.2" y2="425.5" stroke="#000" stroke-width="1.4"/>
<line x1="277.85" y1="419" x2="277.85" y2="425.5" stroke="#000" stroke-width="1.4"/>
<line x1="335.5" y1="419" x2="335.5" y2="425.5" stroke="#000" stroke-width="1.4"/>
<text x="105.4" y="442.5" font-size="15.3" fill="#000" text-anchor="middle">0</text>
<text x="220.7" y="442.5" font-size="15.3" fill="#000" text-anchor="middle">10</text>
<text x="336" y="442.5" font-size="15.3" fill="#000" text-anchor="middle">20</text>
<text x="110.8" y="467.6" font-size="19" fill="#000" textLength="211.5" lengthAdjust="spacingAndGlyphs">Unfolding extension (nm)</text>
<text x="55.3" y="432.9" font-size="19" fill="#000" textLength="168.6" lengthAdjust="spacingAndGlyphs" transform="rotate(-90 55.3 432.9)">Unfolding force (pN)</text>
<rect x="109.8" y="243.3" width="8" height="7" fill="#000"/>
<path d="M109.6,258.6 L118.2,258.6 L113.9,266.4 Z" fill="#d04fae"/>
<circle cx="113.9" cy="278.6" r="4.3" fill="#3b57a7"/>
<path d="M109.6,298 L118.2,298 L113.9,290.3 Z" fill="#e8232b"/>
<text x="123.4" y="251.3" font-size="12.5" fill="#000" textLength="41" lengthAdjust="spacingAndGlyphs">AIM-A1</text>
<text x="123.4" y="267.1" font-size="12.5" fill="#000" textLength="79.3" lengthAdjust="spacingAndGlyphs">AIM-A1 + 6G1</text>
<text x="123.4" y="283.2" font-size="12.5" fill="#000" textLength="88.8" lengthAdjust="spacingAndGlyphs">NAIM-A1 + 6G1</text>
<text x="123.4" y="299.1" font-size="12.5" fill="#000" textLength="88.8" lengthAdjust="spacingAndGlyphs">A1-CAIM + 6G1</text>
<polyline points="104.9,413.8 105.48,413.7 106.05,413.59 106.63,413.49 107.21,413.39 107.78,413.28 108.36,413.18 108.94,413.07 109.51,412.97 110.09,412.86 110.67,412.76 111.24,412.65 111.82,412.55 112.39,412.44 112.97,412.34 113.55,412.23 114.12,412.12 114.7,412.02 115.28,411.91 115.85,411.8 116.43,411.7 117.01,411.59 117.58,411.48 118.16,411.37 118.74,411.27 119.31,411.16 119.89,411.05 120.47,410.94 121.04,410.83 121.62,410.72 122.2,410.61 122.77,410.5 123.35,410.39 123.92,410.28 124.5,410.17 125.08,410.06 125.65,409.95 126.23,409.84 126.81,409.73 127.38,409.62 127.96,409.5 128.54,409.39 129.11,409.28 129.69,409.17 130.27,409.05 130.84,408.94 131.42,408.83 132,408.71 132.57,408.6 133.15,408.48 133.72,408.37 134.3,408.25 134.88,408.14 135.45,408.02 136.03,407.91 136.61,407.79 137.18,407.67 137.76,407.56 138.34,407.44 138.91,407.32 139.49,407.21 140.07,407.09 140.64,406.97 141.22,406.85 141.8,406.73 142.37,406.61 142.95,406.49 143.53,406.37 144.1,406.25 144.68,406.13 145.25,406.01 145.83,405.89 146.41,405.77 146.98,405.65 147.56,405.52 148.14,405.4 148.71,405.28 149.29,405.15 149.87,405.03 150.44,404.91 151.02,404.78 151.6,404.66 152.17,404.53 152.75,404.41 153.33,404.28 153.9,404.15 154.48,404.03 155.06,403.9 155.63,403.77 156.21,403.64 156.78,403.52 157.36,403.39 157.94,403.26 158.51,403.13 159.09,403 159.67,402.87 160.24,402.74 160.82,402.61 161.4,402.47 161.97,402.34 162.55,402.21 163.13,402.08 163.7,401.94 164.28,401.81 164.86,401.67 165.43,401.54 166.01,401.4 166.59,401.27 167.16,401.13 167.74,401 168.31,400.86 168.89,400.72 169.47,400.58 170.04,400.44 170.62,400.31 171.2,400.17 171.77,400.03 172.35,399.89 172.93,399.74 173.5,399.6 174.08,399.46 174.66,399.32 175.23,399.17 175.81,399.03 176.39,398.89 176.96,398.74 177.54,398.6 178.12,398.45 178.69,398.3 179.27,398.16 179.84,398.01 180.42,397.86 181,397.71 181.57,397.56 182.15,397.41 182.73,397.26 183.3,397.11 183.88,396.96 184.46,396.8 185.03,396.65 185.61,396.5 186.19,396.34 186.76,396.19 187.34,396.03 187.92,395.87 188.49,395.72 189.07,395.56 189.65,395.4 190.22,395.24 190.8,395.08 191.37,394.92 191.95,394.76 192.53,394.6 193.1,394.43 193.68,394.27 194.26,394.1 194.83,393.94 195.41,393.77 195.99,393.61 196.56,393.44 197.14,393.27 197.72,393.1 198.29,392.93 198.87,392.76 199.45,392.59 200.02,392.42 200.6,392.24 201.18,392.07 201.75,391.89 202.33,391.72 202.9,391.54 203.48,391.36 204.06,391.18 204.63,391 205.21,390.82 205.79,390.64 206.36,390.46 206.94,390.28 207.52,390.09 208.09,389.91 208.67,389.72 209.25,389.53 209.82,389.35 210.4,389.16 210.98,388.97 211.55,388.77 212.13,388.58 212.71,388.39 213.28,388.19 213.86,388 214.44,387.8 215.01,387.6 215.59,387.41 216.16,387.21 216.74,387 217.32,386.8 217.89,386.6 218.47,386.39 219.05,386.19 219.62,385.98 220.2,385.77 220.78,385.56 221.35,385.35 221.93,385.14 222.51,384.92 223.08,384.71 223.66,384.49 224.24,384.27 224.81,384.06 225.39,383.83 225.97,383.61 226.54,383.39 227.12,383.16 227.69,382.94 228.27,382.71 228.85,382.48 229.42,382.25 230,382.02 230.58,381.78 231.15,381.55 231.73,381.31 232.31,381.07 232.88,380.83 233.46,380.59 234.04,380.35 234.61,380.1 235.19,379.86 235.77,379.61 236.34,379.36 236.92,379.1 237.5,378.85 238.07,378.59 238.65,378.34 239.22,378.08 239.8,377.82 240.38,377.55 240.95,377.29 241.53,377.02 242.11,376.75 242.68,376.48 243.26,376.2 243.84,375.93 244.41,375.65 244.99,375.37 245.57,375.09 246.14,374.8 246.72,374.52 247.3,374.23 247.87,373.94 248.45,373.64 249.03,373.35 249.6,373.05 250.18,372.75 250.75,372.44 251.33,372.14 251.91,371.83 252.48,371.52 253.06,371.2 253.64,370.89 254.21,370.57 254.79,370.25 255.37,369.92 255.94,369.6 256.52,369.27 257.1,368.93 257.67,368.6 258.25,368.26 258.83,367.91 259.4,367.57 259.98,367.22 260.56,366.87 261.13,366.51 261.71,366.16 262.28,365.8 262.86,365.43 263.44,365.06 264.01,364.69 264.59,364.32 265.17,363.94 265.74,363.55 266.32,363.17 266.9,362.78 267.47,362.38 268.05,361.99 268.63,361.58 269.2,361.18 269.78,360.77 270.36,360.35 270.47,360.27 270.59,360.19 270.7,360.1 270.82,360.02 270.93,359.94 271.05,359.85 271.16,359.77 271.28,359.68 271.39,359.6 271.51,359.51 271.62,359.43 271.74,359.34 271.85,359.26 271.97,359.17 272.09,359.09 272.2,359 272.32,358.92 272.43,358.83 272.55,358.74 272.66,358.66 272.78,358.57 272.89,358.48 273.01,358.4 273.12,358.31 273.24,358.22 273.35,358.13 273.47,358.04 273.58,357.96 273.7,357.87 273.81,357.78 273.93,357.69 274.05,357.6 274.16,357.51 274.28,357.42 274.39,357.34 274.51,357.25 274.62,357.16 274.74,357.07 274.85,356.98 274.97,356.89 275.08,356.79 275.2,356.7 275.31,356.61 275.43,356.52 275.54,356.43 275.66,356.34 275.77,356.25 275.89,356.16 276.01,356.06 276.12,355.97 276.24,355.88 276.35,355.79 276.47,355.69 276.58,355.6 276.7,355.51 276.81,355.41 276.93,355.32 277.04,355.23 277.16,355.13 277.27,355.04 277.39,354.94 277.5,354.85 277.62,354.75 277.73,354.66 277.85,354.56 277.97,354.47 278.08,354.37 278.2,354.28 278.31,354.18 278.43,354.08 278.54,353.99 278.66,353.89 278.77,353.79 278.89,353.7 279,353.6 279.12,353.5 279.23,353.4 279.35,353.3 279.46,353.21 279.58,353.11 279.69,353.01 279.81,352.91 279.93,352.81 280.04,352.71 280.16,352.61 280.27,352.51 280.39,352.41 280.5,352.31 280.62,352.21 280.73,352.11 280.85,352.01 280.96,351.91 281.08,351.81 281.19,351.7 281.31,351.6 281.42,351.5 281.54,351.4 281.65,351.29 281.77,351.19 281.89,351.09 282,350.99 282.12,350.88 282.23,350.78 282.35,350.67 282.46,350.57 282.58,350.47 282.69,350.36 282.81,350.26 282.92,350.15 283.04,350.04 283.15,349.94 283.27,349.83 283.38,349.73 283.5,349.62 283.62,349.51 283.73,349.41 283.85,349.3 283.96,349.19 284.08,349.08 284.19,348.98 284.31,348.87 284.42,348.76 284.54,348.65 284.65,348.54 284.77,348.43 284.88,348.32 285,348.21 285.11,348.1 285.23,347.99 285.34,347.88 285.46,347.77 285.58,347.66 285.69,347.55 285.81,347.44 285.92,347.32 286.04,347.21 286.15,347.1 286.27,346.99 286.38,346.87 286.5,346.76 286.61,346.65 286.73,346.53 286.84,346.42 286.96,346.3 287.07,346.19 287.19,346.08 287.3,345.96 287.42,345.84 287.54,345.73 287.65,345.61 287.77,345.5 287.88,345.38 288,345.26 288.11,345.15 288.23,345.03 288.34,344.91 288.46,344.79 288.57,344.67 288.69,344.56 288.8,344.44 288.92,344.32 289.03,344.2 289.15,344.08 289.26,343.96 289.38,343.84 289.5,343.72 289.61,343.6 289.73,343.47 289.84,343.35 289.96,343.23 290.07,343.11 290.19,342.99 290.3,342.86 290.42,342.74 290.53,342.62 290.65,342.49 290.76,342.37 290.88,342.24 290.99,342.12 291.11,341.99 291.22,341.87 291.34,341.74 291.46,341.62 291.57,341.49 291.69,341.37 291.8,341.24 291.92,341.11 292.03,340.98 292.15,340.86 292.26,340.73 292.38,340.6 292.49,340.47 292.61,340.34 292.72,340.21 292.84,340.08 292.95,339.95 293.07,339.82 293.18,339.69 293.3,339.56 293.42,339.43 293.53,339.29 293.65,339.16 293.76,339.03 293.88,338.9 293.99,338.76 294.11,338.63 294.22,338.5 294.34,338.36 294.45,338.23 294.57,338.09 294.68,337.96 294.8,337.82 294.91,337.68 295.03,337.55 295.15,337.41 295.26,337.27 295.38,337.14 295.49,337 295.61,336.86 295.72,336.72 295.84,336.58 295.95,336.44 296.07,336.3 296.18,336.16 296.3,336.02 296.41,335.88 296.53,335.74 296.64,335.6 296.76,335.46 296.87,335.31 296.99,335.17 297.11,335.03 297.22,334.88 297.34,334.74 297.45,334.6 297.57,334.45 297.68,334.31 297.8,334.16 297.91,334.01 298.03,333.87 298.14,333.72 298.26,333.57 298.37,333.43 298.49,333.28 298.6,333.13 298.72,332.98 298.83,332.83 298.95,332.68 299.07,332.53 299.18,332.38 299.3,332.23 299.41,332.08 299.53,331.93 299.64,331.78 299.76,331.62 299.87,331.47 299.99,331.32 300.1,331.16 300.22,331.01 300.33,330.85 300.45,330.7 300.56,330.54 300.68,330.39 300.79,330.23 300.91,330.07 301.03,329.92 301.14,329.76 301.26,329.6 301.37,329.44 301.49,329.28 301.6,329.12 301.72,328.96 301.83,328.8 301.95,328.64 302.06,328.48 302.18,328.32 302.29,328.16 302.41,327.99 302.52,327.83 302.64,327.67 302.75,327.5 302.87,327.34 302.99,327.17 303.1,327.01 303.22,326.84 303.33,326.67 303.45,326.51 303.56,326.34 303.68,326.17 303.79,326 303.91,325.83 304.02,325.66 304.14,325.49 304.25,325.32 304.37,325.15 304.48,324.98 304.6,324.81 304.71,324.64 304.83,324.46 304.95,324.29 305.06,324.12 305.18,323.94 305.29,323.77 305.41,323.59 305.52,323.41 305.64,323.24 305.75,323.06 305.87,322.88 305.98,322.7 306.1,322.53 306.21,322.35 306.33,322.17 306.44,321.99 306.56,321.8 306.68,321.62 306.79,321.44 306.91,321.26 307.02,321.08 307.14,320.89 307.25,320.71 307.37,320.52 307.48,320.34 307.6,320.15 307.71,319.96 307.83,319.78 307.94,319.59 308.06,319.4 308.17,319.21 308.29,319.02 308.4,318.83 308.52,318.64 308.64,318.45 308.75,318.26 308.87,318.07 308.98,317.87 309.1,317.68 309.21,317.49 309.33,317.29 309.44,317.1 309.56,316.9 309.67,316.7 309.79,316.51 309.9,316.31 310.02,316.11 310.13,315.91 310.25,315.71 310.36,315.51 310.48,315.31 310.6,315.11 310.71,314.91 310.83,314.7 310.94,314.5 311.06,314.3 311.17,314.09 311.29,313.89 311.4,313.68 311.52,313.47 311.63,313.27 311.75,313.06 311.86,312.85 311.98,312.64 312.09,312.43 312.21,312.22 312.32,312.01 312.44,311.8 312.56,311.58 312.67,311.37 312.79,311.16 312.9,310.94 313.02,310.73 313.13,310.51 313.25,310.29 313.36,310.07 313.48,309.86 313.59,309.64 313.71,309.42 313.82,309.2 313.94,308.98 314.05,308.75 314.17,308.53 314.28,308.31 314.4,308.08 314.52,307.86 314.63,307.63 314.75,307.41 314.86,307.18 314.98,306.95 315.09,306.72 315.21,306.49 315.32,306.26 315.44,306.03 315.55,305.8 315.67,305.57 315.78,305.33 315.9,305.1 316.01,304.86 316.13,304.63 316.24,304.39 316.36,304.16 316.48,303.92 316.59,303.68 316.71,303.44 316.82,303.2 316.94,302.96 317.05,302.71 317.17,302.47 317.28,302.23 317.4,301.98 317.51,301.74 317.63,301.49 317.74,301.24 317.86,301 317.97,300.75 318.09,300.5 318.21,300.25 318.32,300 318.44,299.74 318.55,299.49 318.67,299.24 318.78,298.98 318.9,298.72 319.01,298.47 319.13,298.21 319.24,297.95 319.36,297.69 319.47,297.43 319.59,297.17 319.7,296.91 319.82,296.64 319.93,296.38 320.05,296.12 320.17,295.85 320.28,295.58 320.4,295.31 320.51,295.05 320.63,294.78 320.74,294.51 320.86,294.23 320.97,293.96 321.09,293.69 321.2,293.41 321.32,293.14 321.43,292.86 321.55,292.58 321.66,292.3 321.78,292.02 321.89,291.74 322.01,291.46 322.13,291.18 322.24,290.9 322.36,290.61 322.47,290.33 322.59,290.04 322.7,289.75 322.82,289.46 322.93,289.17 323.05,288.88 323.16,288.59 323.28,288.3 323.39,288 323.51,287.71 323.62,287.41 323.74,287.11 323.85,286.81 323.97,286.51 324.09,286.21 324.2,285.91 324.32,285.61 324.43,285.3 324.55,285 324.66,284.69 324.78,284.38 324.89,284.07 325.01,283.76 325.12,283.45 325.24,283.14 325.35,282.83 325.47,282.51 325.58,282.2 325.7,281.88 325.81,281.56 325.93,281.24 326.05,280.92 326.16,280.6 326.28,280.27 326.39,279.95 326.51,279.62 326.62,279.3 326.74,278.97 326.85,278.64 326.97,278.31 327.08,277.98 327.2,277.64 327.31,277.31 327.43,276.97 327.54,276.64 327.66,276.3 327.77,275.96 327.89,275.62 328.01,275.27 328.12,274.93 328.24,274.58 328.35,274.24 328.47,273.89 328.58,273.54 328.7,273.19 328.81,272.84 328.93,272.48 329.04,272.13 329.16,271.77 329.27,271.41 329.39,271.05 329.5,270.69 329.62,270.33 329.74,269.97 329.85,269.6 329.97,269.24 330.08,268.87 330.2,268.5 330.31,268.13 330.43,267.76 330.54,267.38 330.66,267.01 330.77,266.63 330.89,266.25 331,265.87 331.12,265.49 331.23,265.11 331.35,264.72 331.46,264.33 331.58,263.95 331.7,263.56 331.81,263.17 331.93,262.77 332.04,262.38 332.16,261.98 332.27,261.58 332.39,261.19 332.5,260.78 332.62,260.38 332.73,259.98 332.85,259.57 332.96,259.16 333.08,258.75 333.19,258.34 333.31,257.93 333.42,257.52 333.54,257.1 333.66,256.68 333.77,256.26 333.89,255.84 334,255.42 334.12,254.99 334.23,254.56 334.35,254.13 334.46,253.7 334.58,253.27 334.69,252.84 334.81,252.4 334.92,251.96 335.04,251.52 335.15,251.08 335.27,250.64 335.38,250.19 335.5,249.74 335.62,249.29 335.73,248.84 335.85,248.39 335.96,247.93 336.08,247.47 336.19,247.01 336.31,246.55 336.42,246.09 336.54,245.62 336.65,245.15 336.77,244.68 336.88,244.21 337,243.74 337.11,243.26 337.23,242.78 337.34,242.3 337.46,241.82 337.58,241.34 337.69,240.85 337.81,240.36 337.92,239.87 338.04,239.38 338.15,238.88 338.27,238.38" fill="none" stroke="#000" stroke-width="1.3" stroke-linejoin="round"/>
<polyline points="104.9,413.8 105.48,413.68 106.05,413.56 106.63,413.45 107.21,413.33 107.78,413.21 108.36,413.09 108.94,412.97 109.51,412.85 110.09,412.73 110.67,412.61 111.24,412.48 111.82,412.36 112.39,412.24 112.97,412.12 113.55,411.99 114.12,411.87 114.7,411.74 115.28,411.62 115.85,411.49 116.43,411.36 117.01,411.24 117.58,411.11 118.16,410.98 118.74,410.85 119.31,410.72 119.89,410.59 120.47,410.46 121.04,410.33 121.62,410.2 122.2,410.07 122.77,409.93 123.35,409.8 123.92,409.66 124.5,409.53 125.08,409.39 125.65,409.26 126.23,409.12 126.81,408.98 127.38,408.84 127.96,408.7 128.54,408.56 129.11,408.42 129.69,408.28 130.27,408.13 130.84,407.99 131.42,407.85 132,407.7 132.57,407.56 133.15,407.41 133.72,407.26 134.3,407.11 134.88,406.96 135.45,406.81 136.03,406.66 136.61,406.51 137.18,406.35 137.76,406.2 138.34,406.04 138.91,405.89 139.49,405.73 140.07,405.57 140.64,405.41 141.22,405.25 141.8,405.09 142.37,404.92 142.95,404.76 143.53,404.59 144.1,404.43 144.68,404.26 145.25,404.09 145.83,403.92 146.41,403.74 146.98,403.57 147.56,403.4 148.14,403.22 148.71,403.04 149.29,402.86 149.87,402.68 150.44,402.5 151.02,402.32 151.6,402.13 152.17,401.94 152.75,401.76 153.33,401.57 153.9,401.37 154.48,401.18 155.06,400.98 155.63,400.79 156.21,400.59 156.78,400.39 157.36,400.18 157.94,399.98 158.51,399.77 159.09,399.56 159.67,399.35 160.24,399.14 160.82,398.92 161.4,398.7 161.97,398.48 162.55,398.26 163.13,398.04 163.7,397.81 164.28,397.58 164.86,397.35 165.43,397.11 166.01,396.87 166.59,396.63 167.16,396.39 167.74,396.14 168.31,395.89 168.89,395.64 169.47,395.39 170.04,395.13 170.62,394.87 171.2,394.6 171.77,394.33 172.35,394.06 172.93,393.79 173.5,393.51 174.08,393.22 174.66,392.94 175.23,392.65 175.81,392.35 176.39,392.05 176.96,391.75 177.54,391.44 178.12,391.13 178.69,390.82 179.27,390.5 179.84,390.17 180.42,389.84 181,389.5 181.57,389.16 182.15,388.82 182.73,388.46 183.3,388.11 183.88,387.74 184.46,387.38 185.03,387 185.61,386.62 186.19,386.23 186.76,385.84 187.34,385.43 187.92,385.02 188.49,384.61 189.07,384.19 189.65,383.75 190.22,383.31 190.8,382.87 191.37,382.41 191.95,381.95 192.53,381.47 193.1,380.99 193.68,380.5 194.26,380 194.83,379.48 195.41,378.96 195.99,378.43 196.56,377.88 197.14,377.33 197.72,376.76 198.29,376.18 198.87,375.59 199.45,374.98 200.02,374.36 200.6,373.72 201.18,373.08 201.75,372.41 202.33,371.73 202.9,371.04 203.48,370.32 204.06,369.59 204.63,368.85 205.21,368.08 205.79,367.29 206.36,366.49 206.94,365.66 207.52,364.81 208.09,363.94 208.67,363.05 209.25,362.13 209.82,361.18 210.4,360.21 210.51,360.01 210.63,359.81 210.75,359.61 210.86,359.41 210.98,359.21 211.09,359.01 211.21,358.8 211.32,358.6 211.44,358.39 211.55,358.18 211.67,357.97 211.78,357.76 211.9,357.55 212.01,357.34 212.13,357.13 212.24,356.91 212.36,356.69 212.47,356.48 212.59,356.26 212.71,356.04 212.82,355.82 212.94,355.59 213.05,355.37 213.17,355.14 213.28,354.92 213.4,354.69 213.51,354.46 213.63,354.23 213.74,353.99 213.86,353.76 213.97,353.53 214.09,353.29 214.2,353.05 214.32,352.81 214.43,352.57 214.55,352.33 214.67,352.08 214.78,351.84 214.9,351.59 215.01,351.34 215.13,351.09 215.24,350.84 215.36,350.59 215.47,350.33 215.59,350.08 215.7,349.82 215.82,349.56 215.93,349.3 216.05,349.04 216.16,348.77 216.28,348.5 216.4,348.24 216.51,347.97 216.63,347.7 216.74,347.42 216.86,347.15 216.97,346.87 217.09,346.59 217.2,346.31 217.32,346.03 217.43,345.75 217.55,345.46 217.66,345.17 217.78,344.88 217.89,344.59 218.01,344.3 218.12,344 218.24,343.7 218.36,343.41 218.47,343.1 218.59,342.8 218.7,342.49 218.82,342.19 218.93,341.88 219.05,341.57 219.16,341.25 219.28,340.94 219.39,340.62 219.51,340.3 219.62,339.97 219.74,339.65 219.85,339.32 219.97,338.99 220.08,338.66 220.2,338.33 220.32,337.99 220.43,337.65 220.55,337.31 220.66,336.97 220.78,336.62 220.89,336.27 221.01,335.92 221.12,335.57 221.24,335.21 221.35,334.85 221.47,334.49 221.58,334.13 221.7,333.76 221.81,333.39 221.93,333.02 222.04,332.65 222.16,332.27 222.28,331.89 222.39,331.51 222.51,331.12 222.62,330.73 222.74,330.34 222.85,329.95 222.97,329.55 223.08,329.15 223.2,328.75 223.31,328.34 223.43,327.93 223.54,327.52 223.66,327.1 223.77,326.69 223.89,326.26 224,325.84 224.12,325.41 224.24,324.98 224.35,324.54 224.47,324.1 224.58,323.66 224.7,323.22 224.81,322.77 224.93,322.31 225.04,321.86 225.16,321.4 225.27,320.94 225.39,320.47 225.5,320 225.62,319.52 225.73,319.04 225.85,318.56 225.96,318.08 226.08,317.59 226.2,317.09 226.31,316.59 226.43,316.09 226.54,315.58 226.66,315.07 226.77,314.56 226.89,314.04 227,313.52 227.12,312.99 227.23,312.46 227.35,311.92 227.46,311.38 227.58,310.83 227.69,310.28 227.81,309.73 227.93,309.17 228.04,308.6 228.16,308.03 228.27,307.46 228.39,306.88 228.5,306.3 228.62,305.71 228.73,305.11 228.85,304.51 228.96,303.91 229.08,303.3 229.19,302.68 229.31,302.06 229.42,301.43 229.54,300.8 229.65,300.16 229.77,299.52 229.89,298.87 230,298.21 230.12,297.55 230.23,296.89 230.35,296.21 230.46,295.53 230.58,294.85 230.69,294.15 230.81,293.45 230.92,292.75 231.04,292.04 231.15,291.32 231.27,290.59 231.38,289.86 231.5,289.12 231.61,288.38 231.73,287.62 231.85,286.86 231.96,286.1 232.08,285.32 232.19,284.54 232.31,283.75 232.42,282.95 232.54,282.15 232.65,281.33 232.77,280.51 232.88,279.68 233,278.84 233.11,278 233.23,277.14 233.34,276.28 233.46,275.41 233.57,274.53 233.69,273.64 233.81,272.74 233.92,271.83 234.04,270.92 234.15,269.99 234.27,269.06 234.38,268.11 234.5,267.16 234.61,266.19 234.73,265.22 234.84,264.23 234.96,263.23 235.07,262.23 235.19,261.21 235.3,260.18 235.42,259.14 235.53,258.09 235.65,257.03 235.77,255.96 235.88,254.88 236,253.78 236.11,252.67 236.23,251.55 236.34,250.42 236.46,249.27 236.57,248.12 236.69,246.95 236.8,245.76 236.92,244.56 237.03,243.35 237.15,242.13 237.26,240.89 237.38,239.64 237.49,238.37" fill="none" stroke="#3b57a7" stroke-width="1.2" stroke-linejoin="round"/>
<polyline points="104.9,413.8 105.48,413.67 106.05,413.53 106.63,413.4 107.21,413.27 107.78,413.13 108.36,413 108.94,412.86 109.51,412.72 110.09,412.59 110.67,412.45 111.24,412.31 111.82,412.17 112.39,412.03 112.97,411.89 113.55,411.75 114.12,411.61 114.7,411.47 115.28,411.33 115.85,411.18 116.43,411.04 117.01,410.9 117.58,410.75 118.16,410.61 118.74,410.46 119.31,410.31 119.89,410.16 120.47,410.01 121.04,409.87 121.62,409.72 122.2,409.56 122.77,409.41 123.35,409.26 123.92,409.11 124.5,408.95 125.08,408.8 125.65,408.64 126.23,408.48 126.81,408.32 127.38,408.17 127.96,408.01 128.54,407.85 129.11,407.68 129.69,407.52 130.27,407.36 130.84,407.19 131.42,407.03 132,406.86 132.57,406.69 133.15,406.52 133.72,406.35 134.3,406.18 134.88,406.01 135.45,405.83 136.03,405.66 136.61,405.48 137.18,405.3 137.76,405.13 138.34,404.95 138.91,404.76 139.49,404.58 140.07,404.4 140.64,404.21 141.22,404.02 141.8,403.84 142.37,403.65 142.95,403.45 143.53,403.26 144.1,403.07 144.68,402.87 145.25,402.67 145.83,402.47 146.41,402.27 146.98,402.07 147.56,401.86 148.14,401.66 148.71,401.45 149.29,401.24 149.87,401.02 150.44,400.81 151.02,400.59 151.6,400.37 152.17,400.15 152.75,399.93 153.33,399.7 153.9,399.47 154.48,399.24 155.06,399.01 155.63,398.78 156.21,398.54 156.78,398.3 157.36,398.06 157.94,397.81 158.51,397.56 159.09,397.31 159.67,397.06 160.24,396.8 160.82,396.54 161.4,396.28 161.97,396.01 162.55,395.74 163.13,395.47 163.7,395.2 164.28,394.92 164.86,394.63 165.43,394.35 166.01,394.06 166.59,393.76 167.16,393.46 167.74,393.16 168.31,392.86 168.89,392.55 169.47,392.23 170.04,391.91 170.62,391.59 171.2,391.26 171.77,390.92 172.35,390.59 172.93,390.24 173.5,389.89 174.08,389.54 174.66,389.18 175.23,388.81 175.81,388.44 176.39,388.06 176.96,387.68 177.54,387.29 178.12,386.89 178.69,386.49 179.27,386.08 179.84,385.66 180.42,385.24 181,384.8 181.57,384.36 182.15,383.91 182.73,383.46 183.3,382.99 183.88,382.52 184.46,382.03 185.03,381.54 185.61,381.04 186.19,380.53 186.76,380 187.34,379.47 187.92,378.92 188.49,378.37 189.07,377.8 189.65,377.22 190.22,376.62 190.8,376.02 191.37,375.4 191.95,374.77 192.53,374.12 193.1,373.45 193.68,372.77 194.26,372.08 194.83,371.37 195.41,370.64 195.99,369.89 196.56,369.13 197.14,368.34 197.72,367.53 198.29,366.71 198.87,365.86 199.45,364.99 200.02,364.09 200.6,363.18 201.18,362.23 201.75,361.26 202.33,360.26 202.44,360.06 202.56,359.85 202.67,359.65 202.79,359.44 202.9,359.23 203.02,359.03 203.14,358.81 203.25,358.6 203.37,358.39 203.48,358.18 203.6,357.96 203.71,357.74 203.83,357.53 203.94,357.31 204.06,357.09 204.17,356.87 204.29,356.64 204.4,356.42 204.52,356.19 204.63,355.97 204.75,355.74 204.87,355.51 204.98,355.28 205.1,355.04 205.21,354.81 205.33,354.57 205.44,354.34 205.56,354.1 205.67,353.86 205.79,353.62 205.9,353.38 206.02,353.13 206.13,352.89 206.25,352.64 206.36,352.39 206.48,352.14 206.59,351.89 206.71,351.63 206.83,351.38 206.94,351.12 207.06,350.86 207.17,350.6 207.29,350.34 207.4,350.08 207.52,349.81 207.63,349.55 207.75,349.28 207.86,349.01 207.98,348.74 208.09,348.46 208.21,348.19 208.32,347.91 208.44,347.63 208.55,347.35 208.67,347.07 208.79,346.78 208.9,346.49 209.02,346.21 209.13,345.92 209.25,345.62 209.36,345.33 209.48,345.03 209.59,344.73 209.71,344.43 209.82,344.13 209.94,343.83 210.05,343.52 210.17,343.21 210.28,342.9 210.4,342.59 210.51,342.27 210.63,341.95 210.75,341.63 210.86,341.31 210.98,340.99 211.09,340.66 211.21,340.33 211.32,340 211.44,339.67 211.55,339.33 211.67,339 211.78,338.66 211.9,338.31 212.01,337.97 212.13,337.62 212.24,337.27 212.36,336.92 212.47,336.56 212.59,336.2 212.71,335.84 212.82,335.48 212.94,335.11 213.05,334.75 213.17,334.37 213.28,334 213.4,333.62 213.51,333.24 213.63,332.86 213.74,332.48 213.86,332.09 213.97,331.7 214.09,331.3 214.2,330.9 214.32,330.5 214.43,330.1 214.55,329.69 214.67,329.29 214.78,328.87 214.9,328.46 215.01,328.04 215.13,327.62 215.24,327.19 215.36,326.76 215.47,326.33 215.59,325.89 215.7,325.45 215.82,325.01 215.93,324.57 216.05,324.12 216.16,323.66 216.28,323.21 216.4,322.74 216.51,322.28 216.63,321.81 216.74,321.34 216.86,320.86 216.97,320.39 217.09,319.9 217.2,319.41 217.32,318.92 217.43,318.43 217.55,317.93 217.66,317.42 217.78,316.92 217.89,316.4 218.01,315.89 218.12,315.37 218.24,314.84 218.36,314.31 218.47,313.78 218.59,313.24 218.7,312.69 218.82,312.15 218.93,311.59 219.05,311.03 219.16,310.47 219.28,309.9 219.39,309.33 219.51,308.75 219.62,308.17 219.74,307.58 219.85,306.99 219.97,306.39 220.08,305.79 220.2,305.18 220.32,304.57 220.43,303.95 220.55,303.32 220.66,302.69 220.78,302.05 220.89,301.41 221.01,300.76 221.12,300.11 221.24,299.45 221.35,298.78 221.47,298.11 221.58,297.43 221.7,296.74 221.81,296.05 221.93,295.35 222.04,294.65 222.16,293.93 222.28,293.22 222.39,292.49 222.51,291.76 222.62,291.02 222.74,290.27 222.85,289.52 222.97,288.76 223.08,287.99 223.2,287.21 223.31,286.43 223.43,285.64 223.54,284.84 223.66,284.03 223.77,283.22 223.89,282.39 224,281.56 224.12,280.72 224.24,279.87 224.35,279.02 224.47,278.15 224.58,277.28 224.7,276.39 224.81,275.5 224.93,274.6 225.04,273.69 225.16,272.76 225.27,271.83 225.39,270.89 225.5,269.94 225.62,268.98 225.73,268.01 225.85,267.03 225.96,266.04 226.08,265.04 226.2,264.03 226.31,263 226.43,261.97 226.54,260.92 226.66,259.87 226.77,258.8 226.89,257.72 227,256.62 227.12,255.52 227.23,254.4 227.35,253.27 227.46,252.13 227.58,250.97 227.69,249.81 227.81,248.62 227.93,247.43 228.04,246.22 228.16,245 228.27,243.76 228.39,242.51 228.5,241.24 228.62,239.96 228.73,238.66" fill="none" stroke="#e8232b" stroke-width="1.2" stroke-linejoin="round"/>
<polyline points="104.9,413.8 105.48,413.66 106.05,413.51 106.63,413.37 107.21,413.22 107.78,413.07 108.36,412.93 108.94,412.78 109.51,412.63 110.09,412.48 110.67,412.33 111.24,412.18 111.82,412.03 112.39,411.88 112.97,411.73 113.55,411.58 114.12,411.43 114.7,411.27 115.28,411.12 115.85,410.96 116.43,410.81 117.01,410.65 117.58,410.5 118.16,410.34 118.74,410.18 119.31,410.02 119.89,409.86 120.47,409.7 121.04,409.54 121.62,409.38 122.2,409.22 122.77,409.06 123.35,408.89 123.92,408.73 124.5,408.56 125.08,408.4 125.65,408.23 126.23,408.06 126.81,407.89 127.38,407.72 127.96,407.55 128.54,407.38 129.11,407.21 129.69,407.04 130.27,406.86 130.84,406.69 131.42,406.51 132,406.33 132.57,406.16 133.15,405.98 133.72,405.8 134.3,405.62 134.88,405.43 135.45,405.25 136.03,405.07 136.61,404.88 137.18,404.69 137.76,404.51 138.34,404.32 138.91,404.13 139.49,403.93 140.07,403.74 140.64,403.55 141.22,403.35 141.8,403.16 142.37,402.96 142.95,402.76 143.53,402.56 144.1,402.36 144.68,402.15 145.25,401.95 145.83,401.74 146.41,401.53 146.98,401.32 147.56,401.11 148.14,400.9 148.71,400.69 149.29,400.47 149.87,400.25 150.44,400.03 151.02,399.81 151.6,399.59 152.17,399.36 152.75,399.14 153.33,398.91 153.9,398.68 154.48,398.44 155.06,398.21 155.63,397.97 156.21,397.73 156.78,397.49 157.36,397.25 157.94,397.01 158.51,396.76 159.09,396.51 159.67,396.26 160.24,396 160.82,395.74 161.4,395.49 161.97,395.22 162.55,394.96 163.13,394.69 163.7,394.42 164.28,394.15 164.86,393.87 165.43,393.59 166.01,393.31 166.59,393.03 167.16,392.74 167.74,392.45 168.31,392.15 168.89,391.86 169.47,391.56 170.04,391.25 170.62,390.94 171.2,390.63 171.77,390.32 172.35,390 172.93,389.67 173.5,389.35 174.08,389.02 174.66,388.68 175.23,388.34 175.81,388 176.39,387.65 176.96,387.3 177.54,386.94 178.12,386.58 178.69,386.21 179.27,385.84 179.84,385.46 180.42,385.08 181,384.69 181.57,384.3 182.15,383.9 182.73,383.49 183.3,383.08 183.88,382.66 184.46,382.24 185.03,381.81 185.61,381.37 186.19,380.93 186.76,380.48 187.34,380.02 187.92,379.55 188.49,379.08 189.07,378.6 189.65,378.11 190.22,377.61 190.8,377.11 191.37,376.59 191.95,376.07 192.53,375.53 193.1,374.99 193.68,374.44 194.26,373.88 194.83,373.3 195.41,372.72 195.99,372.13 196.56,371.52 197.14,370.9 197.72,370.27 198.29,369.63 198.87,368.97 199.45,368.31 200.02,367.62 200.6,366.93 201.18,366.22 201.75,365.49 202.33,364.75 202.9,363.99 203.48,363.22 204.06,362.43 204.63,361.62 205.21,360.79 205.79,359.94 205.9,359.77 206.02,359.6 206.13,359.42 206.25,359.25 206.36,359.07 206.48,358.9 206.59,358.72 206.71,358.54 206.83,358.37 206.94,358.19 207.06,358.01 207.17,357.83 207.29,357.65 207.4,357.46 207.52,357.28 207.63,357.1 207.75,356.91 207.86,356.72 207.98,356.54 208.09,356.35 208.21,356.16 208.32,355.97 208.44,355.78 208.55,355.59 208.67,355.4 208.79,355.2 208.9,355.01 209.02,354.81 209.13,354.62 209.25,354.42 209.36,354.22 209.48,354.02 209.59,353.82 209.71,353.62 209.82,353.42 209.94,353.22 210.05,353.01 210.17,352.81 210.28,352.6 210.4,352.39 210.51,352.19 210.63,351.98 210.75,351.77 210.86,351.56 210.98,351.34 211.09,351.13 211.21,350.91 211.32,350.7 211.44,350.48 211.55,350.26 211.67,350.04 211.78,349.82 211.9,349.6 212.01,349.38 212.13,349.16 212.24,348.93 212.36,348.7 212.47,348.48 212.59,348.25 212.71,348.02 212.82,347.79 212.94,347.56 213.05,347.32 213.17,347.09 213.28,346.85 213.4,346.61 213.51,346.38 213.63,346.14 213.74,345.89 213.86,345.65 213.97,345.41 214.09,345.16 214.2,344.92 214.32,344.67 214.43,344.42 214.55,344.17 214.67,343.92 214.78,343.66 214.9,343.41 215.01,343.15 215.13,342.9 215.24,342.64 215.36,342.38 215.47,342.11 215.59,341.85 215.7,341.59 215.82,341.32 215.93,341.05 216.05,340.78 216.16,340.51 216.28,340.24 216.4,339.97 216.51,339.69 216.63,339.41 216.74,339.13 216.86,338.85 216.97,338.57 217.09,338.29 217.2,338 217.32,337.72 217.43,337.43 217.55,337.14 217.66,336.84 217.78,336.55 217.89,336.25 218.01,335.96 218.12,335.66 218.24,335.36 218.36,335.05 218.47,334.75 218.59,334.44 218.7,334.14 218.82,333.83 218.93,333.51 219.05,333.2 219.16,332.88 219.28,332.57 219.39,332.25 219.51,331.93 219.62,331.6 219.74,331.28 219.85,330.95 219.97,330.62 220.08,330.29 220.2,329.95 220.32,329.62 220.43,329.28 220.55,328.94 220.66,328.6 220.78,328.25 220.89,327.91 221.01,327.56 221.12,327.21 221.24,326.86 221.35,326.5 221.47,326.14 221.58,325.78 221.7,325.42 221.81,325.06 221.93,324.69 222.04,324.32 222.16,323.95 222.28,323.57 222.39,323.2 222.51,322.82 222.62,322.44 222.74,322.05 222.85,321.66 222.97,321.28 223.08,320.88 223.2,320.49 223.31,320.09 223.43,319.69 223.54,319.29 223.66,318.88 223.77,318.48 223.89,318.07 224,317.65 224.12,317.24 224.24,316.82 224.35,316.4 224.47,315.97 224.58,315.54 224.7,315.11 224.81,314.68 224.93,314.24 225.04,313.8 225.16,313.36 225.27,312.91 225.39,312.46 225.5,312.01 225.62,311.56 225.73,311.1 225.85,310.63 225.96,310.17 226.08,309.7 226.2,309.23 226.31,308.75 226.43,308.27 226.54,307.79 226.66,307.31 226.77,306.82 226.89,306.32 227,305.83 227.12,305.33 227.23,304.82 227.35,304.32 227.46,303.81 227.58,303.29 227.69,302.77 227.81,302.25 227.93,301.72 228.04,301.19 228.16,300.66 228.27,300.12 228.39,299.58 228.5,299.03 228.62,298.48 228.73,297.92 228.85,297.36 228.96,296.8 229.08,296.23 229.19,295.66 229.31,295.08 229.42,294.5 229.54,293.92 229.65,293.33 229.77,292.73 229.89,292.13 230,291.53 230.12,290.92 230.23,290.3 230.35,289.68 230.46,289.06 230.58,288.43 230.69,287.8 230.81,287.16 230.92,286.51 231.04,285.86 231.15,285.21 231.27,284.55 231.38,283.88 231.5,283.21 231.61,282.54 231.73,281.86 231.85,281.17 231.96,280.47 232.08,279.78 232.19,279.07 232.31,278.36 232.42,277.64 232.54,276.92 232.65,276.19 232.77,275.46 232.88,274.72 233,273.97 233.11,273.21 233.23,272.45 233.34,271.69 233.46,270.91 233.57,270.13 233.69,269.34 233.81,268.55 233.92,267.75 234.04,266.94 234.15,266.13 234.27,265.3 234.38,264.47 234.5,263.64 234.61,262.79 234.73,261.94 234.84,261.08 234.96,260.21 235.07,259.34 235.19,258.46 235.3,257.56 235.42,256.66 235.53,255.76 235.65,254.84 235.77,253.92 235.88,252.98 236,252.04 236.11,251.09 236.23,250.13 236.34,249.16 236.46,248.19 236.57,247.2 236.69,246.2 236.8,245.2 236.92,244.18 237.03,243.16 237.15,242.12 237.26,241.08 237.38,240.02 237.49,238.96" fill="none" stroke="#d04fae" stroke-width="1.2" stroke-linejoin="round"/>
<line x1="177.6" y1="393.8" x2="177.6" y2="400.8" stroke="#3b57a7" stroke-width="1"/>
<line x1="175.4" y1="393.8" x2="179.8" y2="393.8" stroke="#3b57a7" stroke-width="1"/>
<line x1="175.4" y1="400.8" x2="179.8" y2="400.8" stroke="#3b57a7" stroke-width="1"/>
<circle cx="177.6" cy="397.3" r="4.4" fill="#3b57a7"/>
<line x1="191.2" y1="380.7" x2="191.2" y2="385.7" stroke="#3b57a7" stroke-width="1"/>
<line x1="189" y1="380.7" x2="193.4" y2="380.7" stroke="#3b57a7" stroke-width="1"/>
<line x1="189" y1="385.7" x2="193.4" y2="385.7" stroke="#3b57a7" stroke-width="1"/>
<line x1="189.7" y1="383.2" x2="192.7" y2="383.2" stroke="#3b57a7" stroke-width="1"/>
<line x1="189.7" y1="381" x2="189.7" y2="385.4" stroke="#3b57a7" stroke-width="1"/>
<line x1="192.7" y1="381" x2="192.7" y2="385.4" stroke="#3b57a7" stroke-width="1"/>
<circle cx="191.2" cy="383.2" r="4.4" fill="#3b57a7"/>
<line x1="194.6" y1="364.6" x2="194.6" y2="369.6" stroke="#3b57a7" stroke-width="1"/>
<line x1="192.4" y1="364.6" x2="196.8" y2="364.6" stroke="#3b57a7" stroke-width="1"/>
<line x1="192.4" y1="369.6" x2="196.8" y2="369.6" stroke="#3b57a7" stroke-width="1"/>
<line x1="193.1" y1="367.1" x2="196.1" y2="367.1" stroke="#3b57a7" stroke-width="1"/>
<line x1="193.1" y1="364.9" x2="193.1" y2="369.3" stroke="#3b57a7" stroke-width="1"/>
<line x1="196.1" y1="364.9" x2="196.1" y2="369.3" stroke="#3b57a7" stroke-width="1"/>
<circle cx="194.6" cy="367.1" r="4.4" fill="#3b57a7"/>
<line x1="217.8" y1="348.7" x2="217.8" y2="356.7" stroke="#3b57a7" stroke-width="1"/>
<line x1="215.6" y1="348.7" x2="220" y2="348.7" stroke="#3b57a7" stroke-width="1"/>
<line x1="215.6" y1="356.7" x2="220" y2="356.7" stroke="#3b57a7" stroke-width="1"/>
<line x1="213.2" y1="352.7" x2="222.4" y2="352.7" stroke="#3b57a7" stroke-width="1"/>
<line x1="213.2" y1="350.5" x2="213.2" y2="354.9" stroke="#3b57a7" stroke-width="1"/>
<line x1="222.4" y1="350.5" x2="222.4" y2="354.9" stroke="#3b57a7" stroke-width="1"/>
<circle cx="217.8" cy="352.7" r="4.4" fill="#3b57a7"/>
<line x1="220.4" y1="318.2" x2="220.4" y2="340.2" stroke="#3b57a7" stroke-width="1"/>
<line x1="218.2" y1="318.2" x2="222.6" y2="318.2" stroke="#3b57a7" stroke-width="1"/>
<line x1="218.2" y1="340.2" x2="222.6" y2="340.2" stroke="#3b57a7" stroke-width="1"/>
<line x1="215.8" y1="329.2" x2="225" y2="329.2" stroke="#3b57a7" stroke-width="1"/>
<line x1="215.8" y1="327" x2="215.8" y2="331.4" stroke="#3b57a7" stroke-width="1"/>
<line x1="225" y1="327" x2="225" y2="331.4" stroke="#3b57a7" stroke-width="1"/>
<circle cx="220.4" cy="329.2" r="4.4" fill="#3b57a7"/>
<line x1="187.8" y1="385.2" x2="187.8" y2="393.2" stroke="#d04fae" stroke-width="1"/>
<line x1="185.6" y1="385.2" x2="190" y2="385.2" stroke="#d04fae" stroke-width="1"/>
<line x1="185.6" y1="393.2" x2="190" y2="393.2" stroke="#d04fae" stroke-width="1"/>
<line x1="185.3" y1="389.2" x2="190.3" y2="389.2" stroke="#d04fae" stroke-width="1"/>
<line x1="185.3" y1="387" x2="185.3" y2="391.4" stroke="#d04fae" stroke-width="1"/>
<line x1="190.3" y1="387" x2="190.3" y2="391.4" stroke="#d04fae" stroke-width="1"/>
<path d="M183.3,385.56 L192.3,385.56 L187.8,393.65 Z" fill="#d04fae"/>
<line x1="192.9" y1="368.4" x2="192.9" y2="374.4" stroke="#d04fae" stroke-width="1"/>
<line x1="190.7" y1="368.4" x2="195.1" y2="368.4" stroke="#d04fae" stroke-width="1"/>
<line x1="190.7" y1="374.4" x2="195.1" y2="374.4" stroke="#d04fae" stroke-width="1"/>
<line x1="190.4" y1="371.4" x2="195.4" y2="371.4" stroke="#d04fae" stroke-width="1"/>
<line x1="190.4" y1="369.2" x2="190.4" y2="373.6" stroke="#d04fae" stroke-width="1"/>
<line x1="195.4" y1="369.2" x2="195.4" y2="373.6" stroke="#d04fae" stroke-width="1"/>
<path d="M188.4,367.75 L197.4,367.75 L192.9,375.85 Z" fill="#d04fae"/>
<line x1="197.1" y1="356" x2="197.1" y2="363" stroke="#d04fae" stroke-width="1"/>
<line x1="194.9" y1="356" x2="199.3" y2="356" stroke="#d04fae" stroke-width="1"/>
<line x1="194.9" y1="363" x2="199.3" y2="363" stroke="#d04fae" stroke-width="1"/>
<line x1="193.6" y1="359.5" x2="200.6" y2="359.5" stroke="#d04fae" stroke-width="1"/>
<line x1="193.6" y1="357.3" x2="193.6" y2="361.7" stroke="#d04fae" stroke-width="1"/>
<line x1="200.6" y1="357.3" x2="200.6" y2="361.7" stroke="#d04fae" stroke-width="1"/>
<path d="M192.6,355.86 L201.6,355.86 L197.1,363.95 Z" fill="#d04fae"/>
<line x1="215.6" y1="339" x2="215.6" y2="347" stroke="#d04fae" stroke-width="1"/>
<line x1="213.4" y1="339" x2="217.8" y2="339" stroke="#d04fae" stroke-width="1"/>
<line x1="213.4" y1="347" x2="217.8" y2="347" stroke="#d04fae" stroke-width="1"/>
<line x1="212.1" y1="343" x2="219.1" y2="343" stroke="#d04fae" stroke-width="1"/>
<line x1="212.1" y1="340.8" x2="212.1" y2="345.2" stroke="#d04fae" stroke-width="1"/>
<line x1="219.1" y1="340.8" x2="219.1" y2="345.2" stroke="#d04fae" stroke-width="1"/>
<path d="M211.1,339.36 L220.1,339.36 L215.6,347.45 Z" fill="#d04fae"/>
<line x1="223.7" y1="309.3" x2="223.7" y2="329.3" stroke="#d04fae" stroke-width="1"/>
<line x1="221.5" y1="309.3" x2="225.9" y2="309.3" stroke="#d04fae" stroke-width="1"/>
<line x1="221.5" y1="329.3" x2="225.9" y2="329.3" stroke="#d04fae" stroke-width="1"/>
<line x1="219.3" y1="319.3" x2="228.1" y2="319.3" stroke="#d04fae" stroke-width="1"/>
<line x1="219.3" y1="317.1" x2="219.3" y2="321.5" stroke="#d04fae" stroke-width="1"/>
<line x1="228.1" y1="317.1" x2="228.1" y2="321.5" stroke="#d04fae" stroke-width="1"/>
<path d="M219.2,315.66 L228.2,315.66 L223.7,323.75 Z" fill="#d04fae"/>
<line x1="149.7" y1="399.8" x2="149.7" y2="403" stroke="#e8232b" stroke-width="1"/>
<line x1="147.5" y1="399.8" x2="151.9" y2="399.8" stroke="#e8232b" stroke-width="1"/>
<line x1="147.5" y1="403" x2="151.9" y2="403" stroke="#e8232b" stroke-width="1"/>
<line x1="146.3" y1="401.4" x2="153.1" y2="401.4" stroke="#e8232b" stroke-width="1"/>
<line x1="146.3" y1="399.2" x2="146.3" y2="403.6" stroke="#e8232b" stroke-width="1"/>
<line x1="153.1" y1="399.2" x2="153.1" y2="403.6" stroke="#e8232b" stroke-width="1"/>
<path d="M145.2,405.04 L154.2,405.04 L149.7,396.94 Z" fill="#e8232b"/>
<line x1="165.8" y1="390.9" x2="165.8" y2="394.1" stroke="#e8232b" stroke-width="1"/>
<line x1="163.6" y1="390.9" x2="168" y2="390.9" stroke="#e8232b" stroke-width="1"/>
<line x1="163.6" y1="394.1" x2="168" y2="394.1" stroke="#e8232b" stroke-width="1"/>
<line x1="162" y1="392.5" x2="169.6" y2="392.5" stroke="#e8232b" stroke-width="1"/>
<line x1="162" y1="390.3" x2="162" y2="394.7" stroke="#e8232b" stroke-width="1"/>
<line x1="169.6" y1="390.3" x2="169.6" y2="394.7" stroke="#e8232b" stroke-width="1"/>
<path d="M161.3,396.14 L170.3,396.14 L165.8,388.05 Z" fill="#e8232b"/>
<line x1="180.2" y1="385.9" x2="180.2" y2="389.1" stroke="#e8232b" stroke-width="1"/>
<line x1="178" y1="385.9" x2="182.4" y2="385.9" stroke="#e8232b" stroke-width="1"/>
<line x1="178" y1="389.1" x2="182.4" y2="389.1" stroke="#e8232b" stroke-width="1"/>
<line x1="176.8" y1="387.5" x2="183.6" y2="387.5" stroke="#e8232b" stroke-width="1"/>
<line x1="176.8" y1="385.3" x2="176.8" y2="389.7" stroke="#e8232b" stroke-width="1"/>
<line x1="183.6" y1="385.3" x2="183.6" y2="389.7" stroke="#e8232b" stroke-width="1"/>
<path d="M175.7,391.14 L184.7,391.14 L180.2,383.05 Z" fill="#e8232b"/>
<line x1="192" y1="378.7" x2="192" y2="382.7" stroke="#e8232b" stroke-width="1"/>
<line x1="189.8" y1="378.7" x2="194.2" y2="378.7" stroke="#e8232b" stroke-width="1"/>
<line x1="189.8" y1="382.7" x2="194.2" y2="382.7" stroke="#e8232b" stroke-width="1"/>
<line x1="189" y1="380.7" x2="195" y2="380.7" stroke="#e8232b" stroke-width="1"/>
<line x1="189" y1="378.5" x2="189" y2="382.9" stroke="#e8232b" stroke-width="1"/>
<line x1="195" y1="378.5" x2="195" y2="382.9" stroke="#e8232b" stroke-width="1"/>
<path d="M187.5,384.34 L196.5,384.34 L192,376.25 Z" fill="#e8232b"/>
<line x1="203.9" y1="350.2" x2="203.9" y2="373.8" stroke="#e8232b" stroke-width="1"/>
<line x1="201.7" y1="350.2" x2="206.1" y2="350.2" stroke="#e8232b" stroke-width="1"/>
<line x1="201.7" y1="373.8" x2="206.1" y2="373.8" stroke="#e8232b" stroke-width="1"/>
<path d="M199.4,365.64 L208.4,365.64 L203.9,357.55 Z" fill="#e8232b"/>
<line x1="253.7" y1="369.2" x2="253.7" y2="385" stroke="#000" stroke-width="1"/>
<line x1="251.5" y1="369.2" x2="255.9" y2="369.2" stroke="#000" stroke-width="1"/>
<line x1="251.5" y1="385" x2="255.9" y2="385" stroke="#000" stroke-width="1"/>
<line x1="247.9" y1="377.1" x2="259.5" y2="377.1" stroke="#000" stroke-width="1"/>
<line x1="247.9" y1="374.9" x2="247.9" y2="379.3" stroke="#000" stroke-width="1"/>
<line x1="259.5" y1="374.9" x2="259.5" y2="379.3" stroke="#000" stroke-width="1"/>
<rect x="250.2" y="373.6" width="7" height="7" fill="#000"/>
<line x1="272.4" y1="351.6" x2="272.4" y2="362.6" stroke="#000" stroke-width="1"/>
<line x1="270.2" y1="351.6" x2="274.6" y2="351.6" stroke="#000" stroke-width="1"/>
<line x1="270.2" y1="362.6" x2="274.6" y2="362.6" stroke="#000" stroke-width="1"/>
<line x1="265.4" y1="357.1" x2="279.4" y2="357.1" stroke="#000" stroke-width="1"/>
<line x1="265.4" y1="354.9" x2="265.4" y2="359.3" stroke="#000" stroke-width="1"/>
<line x1="279.4" y1="354.9" x2="279.4" y2="359.3" stroke="#000" stroke-width="1"/>
<rect x="268.9" y="353.6" width="7" height="7" fill="#000"/>
<line x1="295.2" y1="332.2" x2="295.2" y2="343.2" stroke="#000" stroke-width="1"/>
<line x1="293" y1="332.2" x2="297.4" y2="332.2" stroke="#000" stroke-width="1"/>
<line x1="293" y1="343.2" x2="297.4" y2="343.2" stroke="#000" stroke-width="1"/>
<line x1="289.8" y1="337.7" x2="300.6" y2="337.7" stroke="#000" stroke-width="1"/>
<line x1="289.8" y1="335.5" x2="289.8" y2="339.9" stroke="#000" stroke-width="1"/>
<line x1="300.6" y1="335.5" x2="300.6" y2="339.9" stroke="#000" stroke-width="1"/>
<rect x="291.7" y="334.2" width="7" height="7" fill="#000"/>
<line x1="306.3" y1="313.2" x2="306.3" y2="323.8" stroke="#000" stroke-width="1"/>
<line x1="304.1" y1="313.2" x2="308.5" y2="313.2" stroke="#000" stroke-width="1"/>
<line x1="304.1" y1="323.8" x2="308.5" y2="323.8" stroke="#000" stroke-width="1"/>
<line x1="299" y1="318.5" x2="313.6" y2="318.5" stroke="#000" stroke-width="1"/>
<line x1="299" y1="316.3" x2="299" y2="320.7" stroke="#000" stroke-width="1"/>
<line x1="313.6" y1="316.3" x2="313.6" y2="320.7" stroke="#000" stroke-width="1"/>
<rect x="302.8" y="315" width="7" height="7" fill="#000"/>
<line x1="330.1" y1="243.9" x2="330.1" y2="296.5" stroke="#000" stroke-width="1"/>
<line x1="327.9" y1="243.9" x2="332.3" y2="243.9" stroke="#000" stroke-width="1"/>
<line x1="327.9" y1="296.5" x2="332.3" y2="296.5" stroke="#000" stroke-width="1"/>
<line x1="325.5" y1="270.2" x2="334.7" y2="270.2" stroke="#000" stroke-width="1"/>
<line x1="325.5" y1="268" x2="325.5" y2="272.4" stroke="#000" stroke-width="1"/>
<line x1="334.7" y1="268" x2="334.7" y2="272.4" stroke="#000" stroke-width="1"/>
<rect x="326.6" y="266.7" width="7" height="7" fill="#000"/>
<text x="389.6" y="237.9" font-size="19.5" fill="#000" font-weight="bold" stroke="#000" stroke-width="0.45">D</text>
<line x1="433.6" y1="243.7" x2="433.6" y2="420.6" stroke="#000" stroke-width="1.4"/>
<line x1="433" y1="420" x2="670.9" y2="420" stroke="#000" stroke-width="1.4"/>
<line x1="428.9" y1="416.3" x2="433.6" y2="416.3" stroke="#000" stroke-width="1.4"/>
<line x1="429.8" y1="381.6" x2="433.6" y2="381.6" stroke="#000" stroke-width="1.4"/>
<line x1="428.9" y1="346.9" x2="433.6" y2="346.9" stroke="#000" stroke-width="1.4"/>
<line x1="429.8" y1="312.2" x2="433.6" y2="312.2" stroke="#000" stroke-width="1.4"/>
<line x1="428.9" y1="277.5" x2="433.6" y2="277.5" stroke="#000" stroke-width="1.4"/>
<text x="425.8" y="421.3" font-size="14.3" fill="#000" text-anchor="end">0</text>
<text x="425.8" y="353.8" font-size="14.3" fill="#000" text-anchor="end">10</text>
<text x="425.8" y="284" font-size="14.3" fill="#000" text-anchor="end">20</text>
<line x1="437.79" y1="420" x2="437.79" y2="423" stroke="#000" stroke-width="1.3"/>
<line x1="467.09" y1="420" x2="467.09" y2="423" stroke="#000" stroke-width="1.3"/>
<line x1="487.88" y1="420" x2="487.88" y2="423" stroke="#000" stroke-width="1.3"/>
<line x1="504.01" y1="420" x2="504.01" y2="423" stroke="#000" stroke-width="1.3"/>
<line x1="517.18" y1="420" x2="517.18" y2="423" stroke="#000" stroke-width="1.3"/>
<line x1="528.32" y1="420" x2="528.32" y2="423" stroke="#000" stroke-width="1.3"/>
<line x1="537.97" y1="420" x2="537.97" y2="423" stroke="#000" stroke-width="1.3"/>
<line x1="546.49" y1="420" x2="546.49" y2="423" stroke="#000" stroke-width="1.3"/>
<line x1="554.1" y1="420" x2="554.1" y2="425.5" stroke="#000" stroke-width="1.3"/>
<line x1="604.19" y1="420" x2="604.19" y2="423" stroke="#000" stroke-width="1.3"/>
<line x1="633.49" y1="420" x2="633.49" y2="423" stroke="#000" stroke-width="1.3"/>
<line x1="654.28" y1="420" x2="654.28" y2="423" stroke="#000" stroke-width="1.3"/>
<line x1="670.41" y1="420" x2="670.41" y2="423" stroke="#000" stroke-width="1.3"/>
<text x="554.1" y="442.4" font-size="14" fill="#000" text-anchor="middle">10</text>
<text x="480.5" y="461.3" font-size="19" fill="#000" textLength="164" lengthAdjust="spacingAndGlyphs">Loading rate (pN/s)</text>
<text x="400.8" y="421" font-size="19" fill="#000" textLength="169.6" lengthAdjust="spacingAndGlyphs" transform="rotate(-90 400.8 421)">Unfolding force (pN)</text>
<rect x="443.8" y="246.6" width="8" height="7.1" fill="#000"/>
<path d="M443.6,261.8 L452.2,261.8 L447.9,269.4 Z" fill="#d04fae"/>
<circle cx="447.9" cy="281.4" r="4.4" fill="#3b57a7"/>
<path d="M443.6,301.7 L452.2,301.7 L447.9,293.7 Z" fill="#e8232b"/>
<text x="457.5" y="254.8" font-size="14.3" fill="#000" textLength="47.6" lengthAdjust="spacingAndGlyphs">AIM-A1</text>
<text x="457.5" y="270.4" font-size="14.3" fill="#000" textLength="92.2" lengthAdjust="spacingAndGlyphs">AIM-A1 + 6G1</text>
<text x="457.5" y="286.1" font-size="14.3" fill="#000" textLength="103" lengthAdjust="spacingAndGlyphs">NAIM-A1 + 6G1</text>
<text x="457.5" y="302.6" font-size="14.3" fill="#000" textLength="103" lengthAdjust="spacingAndGlyphs">A1-CAIM + 6G1</text>
<line x1="437.8" y1="365.3" x2="671.1" y2="282.3" stroke="#000" stroke-width="1.2"/>
<line x1="437.8" y1="378.6" x2="671.1" y2="316.8" stroke="#d04fae" stroke-width="1.2"/>
<line x1="437.8" y1="395.6" x2="671.1" y2="317.9" stroke="#3b57a7" stroke-width="1.2"/>
<line x1="437.8" y1="392.6" x2="671.1" y2="365.3" stroke="#e8232b" stroke-width="1.2"/>
<line x1="462.3" y1="340.3" x2="462.3" y2="368.3" stroke="#111" stroke-width="1.2"/>
<line x1="460.3" y1="340.3" x2="464.3" y2="340.3" stroke="#111" stroke-width="1.2"/>
<line x1="460.3" y1="368.3" x2="464.3" y2="368.3" stroke="#111" stroke-width="1.2"/>
<rect x="459.4" y="351.4" width="5.8" height="5.8" fill="#000"/>
<line x1="503.8" y1="333.3" x2="503.8" y2="354.3" stroke="#111" stroke-width="1.2"/>
<line x1="501.8" y1="333.3" x2="505.8" y2="333.3" stroke="#111" stroke-width="1.2"/>
<line x1="501.8" y1="354.3" x2="505.8" y2="354.3" stroke="#111" stroke-width="1.2"/>
<rect x="500.9" y="340.7" width="5.8" height="5.8" fill="#000"/>
<line x1="572.9" y1="305.3" x2="572.9" y2="326.3" stroke="#111" stroke-width="1.2"/>
<line x1="570.9" y1="305.3" x2="574.9" y2="305.3" stroke="#111" stroke-width="1.2"/>
<line x1="570.9" y1="326.3" x2="574.9" y2="326.3" stroke="#111" stroke-width="1.2"/>
<rect x="570" y="313.3" width="5.8" height="5.8" fill="#000"/>
<line x1="600.7" y1="298.6" x2="600.7" y2="326.3" stroke="#111" stroke-width="1.2"/>
<line x1="598.7" y1="298.6" x2="602.7" y2="298.6" stroke="#111" stroke-width="1.2"/>
<line x1="598.7" y1="326.3" x2="602.7" y2="326.3" stroke="#111" stroke-width="1.2"/>
<rect x="597.8" y="309.2" width="5.8" height="5.8" fill="#000"/>
<line x1="616.6" y1="288.4" x2="616.6" y2="320.6" stroke="#111" stroke-width="1.2"/>
<line x1="614.6" y1="288.4" x2="618.6" y2="288.4" stroke="#111" stroke-width="1.2"/>
<line x1="614.6" y1="320.6" x2="618.6" y2="320.6" stroke="#111" stroke-width="1.2"/>
<rect x="613.7" y="302.1" width="5.8" height="5.8" fill="#000"/>
<line x1="632.2" y1="271.1" x2="632.2" y2="305.3" stroke="#111" stroke-width="1.2"/>
<line x1="630.2" y1="271.1" x2="634.2" y2="271.1" stroke="#111" stroke-width="1.2"/>
<line x1="630.2" y1="305.3" x2="634.2" y2="305.3" stroke="#111" stroke-width="1.2"/>
<rect x="629.3" y="285.5" width="5.8" height="5.8" fill="#000"/>
<line x1="465.3" y1="357.1" x2="465.3" y2="378.1" stroke="#d04fae" stroke-width="1.2"/>
<line x1="463.3" y1="357.1" x2="467.3" y2="357.1" stroke="#d04fae" stroke-width="1.2"/>
<line x1="463.3" y1="378.1" x2="467.3" y2="378.1" stroke="#d04fae" stroke-width="1.2"/>
<path d="M462,365.63 L468.6,365.63 L465.3,371.57 Z" fill="#d04fae"/>
<line x1="514.3" y1="347.8" x2="514.3" y2="368.3" stroke="#d04fae" stroke-width="1.2"/>
<line x1="512.3" y1="347.8" x2="516.3" y2="347.8" stroke="#d04fae" stroke-width="1.2"/>
<line x1="512.3" y1="368.3" x2="516.3" y2="368.3" stroke="#d04fae" stroke-width="1.2"/>
<path d="M511,355.13 L517.6,355.13 L514.3,361.07 Z" fill="#d04fae"/>
<line x1="559.1" y1="340" x2="559.1" y2="359" stroke="#d04fae" stroke-width="1.2"/>
<line x1="557.1" y1="340" x2="561.1" y2="340" stroke="#d04fae" stroke-width="1.2"/>
<line x1="557.1" y1="359" x2="561.1" y2="359" stroke="#d04fae" stroke-width="1.2"/>
<path d="M555.8,347.33 L562.4,347.33 L559.1,353.27 Z" fill="#d04fae"/>
<line x1="586.5" y1="333.1" x2="586.5" y2="354.1" stroke="#d04fae" stroke-width="1.2"/>
<line x1="584.5" y1="333.1" x2="588.5" y2="333.1" stroke="#d04fae" stroke-width="1.2"/>
<line x1="584.5" y1="354.1" x2="588.5" y2="354.1" stroke="#d04fae" stroke-width="1.2"/>
<path d="M583.2,340.53 L589.8,340.53 L586.5,346.47 Z" fill="#d04fae"/>
<line x1="617.6" y1="305" x2="617.6" y2="340.5" stroke="#d04fae" stroke-width="1.2"/>
<line x1="615.6" y1="305" x2="619.6" y2="305" stroke="#d04fae" stroke-width="1.2"/>
<line x1="615.6" y1="340.5" x2="619.6" y2="340.5" stroke="#d04fae" stroke-width="1.2"/>
<path d="M614.3,319.63 L620.9,319.63 L617.6,325.57 Z" fill="#d04fae"/>
<line x1="487.5" y1="368.8" x2="487.5" y2="382.3" stroke="#3b57a7" stroke-width="1.2"/>
<line x1="485.5" y1="368.8" x2="489.5" y2="368.8" stroke="#3b57a7" stroke-width="1.2"/>
<line x1="485.5" y1="382.3" x2="489.5" y2="382.3" stroke="#3b57a7" stroke-width="1.2"/>
<circle cx="487.5" cy="375.8" r="3.1" fill="#3b57a7"/>
<line x1="546.5" y1="354.8" x2="546.5" y2="374.6" stroke="#3b57a7" stroke-width="1.2"/>
<line x1="544.5" y1="354.8" x2="548.5" y2="354.8" stroke="#3b57a7" stroke-width="1.2"/>
<line x1="544.5" y1="374.6" x2="548.5" y2="374.6" stroke="#3b57a7" stroke-width="1.2"/>
<circle cx="546.5" cy="364.6" r="3.1" fill="#3b57a7"/>
<line x1="578" y1="347.7" x2="578" y2="360.9" stroke="#3b57a7" stroke-width="1.2"/>
<line x1="576" y1="347.7" x2="580" y2="347.7" stroke="#3b57a7" stroke-width="1.2"/>
<line x1="576" y1="360.9" x2="580" y2="360.9" stroke="#3b57a7" stroke-width="1.2"/>
<circle cx="578" cy="354.1" r="3.1" fill="#3b57a7"/>
<line x1="613.6" y1="322.3" x2="613.6" y2="338.2" stroke="#3b57a7" stroke-width="1.2"/>
<line x1="611.6" y1="322.3" x2="615.6" y2="322.3" stroke="#3b57a7" stroke-width="1.2"/>
<line x1="611.6" y1="338.2" x2="615.6" y2="338.2" stroke="#3b57a7" stroke-width="1.2"/>
<circle cx="613.6" cy="330.7" r="3.1" fill="#3b57a7"/>
<line x1="636.2" y1="321.2" x2="636.2" y2="338.2" stroke="#3b57a7" stroke-width="1.2"/>
<line x1="634.2" y1="321.2" x2="638.2" y2="321.2" stroke="#3b57a7" stroke-width="1.2"/>
<line x1="634.2" y1="338.2" x2="638.2" y2="338.2" stroke="#3b57a7" stroke-width="1.2"/>
<circle cx="636.2" cy="329.7" r="3.1" fill="#3b57a7"/>
<line x1="472.3" y1="382.1" x2="472.3" y2="395.1" stroke="#e8232b" stroke-width="1.2"/>
<line x1="470.3" y1="382.1" x2="474.3" y2="382.1" stroke="#e8232b" stroke-width="1.2"/>
<line x1="470.3" y1="395.1" x2="474.3" y2="395.1" stroke="#e8232b" stroke-width="1.2"/>
<path d="M469,390.87 L475.6,390.87 L472.3,384.93 Z" fill="#e8232b"/>
<line x1="526.7" y1="375.3" x2="526.7" y2="388.6" stroke="#e8232b" stroke-width="1.2"/>
<line x1="524.7" y1="375.3" x2="528.7" y2="375.3" stroke="#e8232b" stroke-width="1.2"/>
<line x1="524.7" y1="388.6" x2="528.7" y2="388.6" stroke="#e8232b" stroke-width="1.2"/>
<path d="M523.4,383.87 L530,383.87 L526.7,377.93 Z" fill="#e8232b"/>
<line x1="558.6" y1="368.3" x2="558.6" y2="388.6" stroke="#e8232b" stroke-width="1.2"/>
<line x1="556.6" y1="368.3" x2="560.6" y2="368.3" stroke="#e8232b" stroke-width="1.2"/>
<line x1="556.6" y1="388.6" x2="560.6" y2="388.6" stroke="#e8232b" stroke-width="1.2"/>
<path d="M555.3,380.77 L561.9,380.77 L558.6,374.83 Z" fill="#e8232b"/>
<line x1="587.8" y1="366.3" x2="587.8" y2="383.2" stroke="#e8232b" stroke-width="1.2"/>
<line x1="585.8" y1="366.3" x2="589.8" y2="366.3" stroke="#e8232b" stroke-width="1.2"/>
<line x1="585.8" y1="383.2" x2="589.8" y2="383.2" stroke="#e8232b" stroke-width="1.2"/>
<path d="M584.5,377.07 L591.1,377.07 L587.8,371.13 Z" fill="#e8232b"/>
<line x1="621" y1="362.5" x2="621" y2="379.5" stroke="#e8232b" stroke-width="1.2"/>
<line x1="619" y1="362.5" x2="623" y2="362.5" stroke="#e8232b" stroke-width="1.2"/>
<line x1="619" y1="379.5" x2="623" y2="379.5" stroke="#e8232b" stroke-width="1.2"/>
<path d="M617.7,372.97 L624.3,372.97 L621,367.03 Z" fill="#e8232b"/>
</svg>
</body></html>
